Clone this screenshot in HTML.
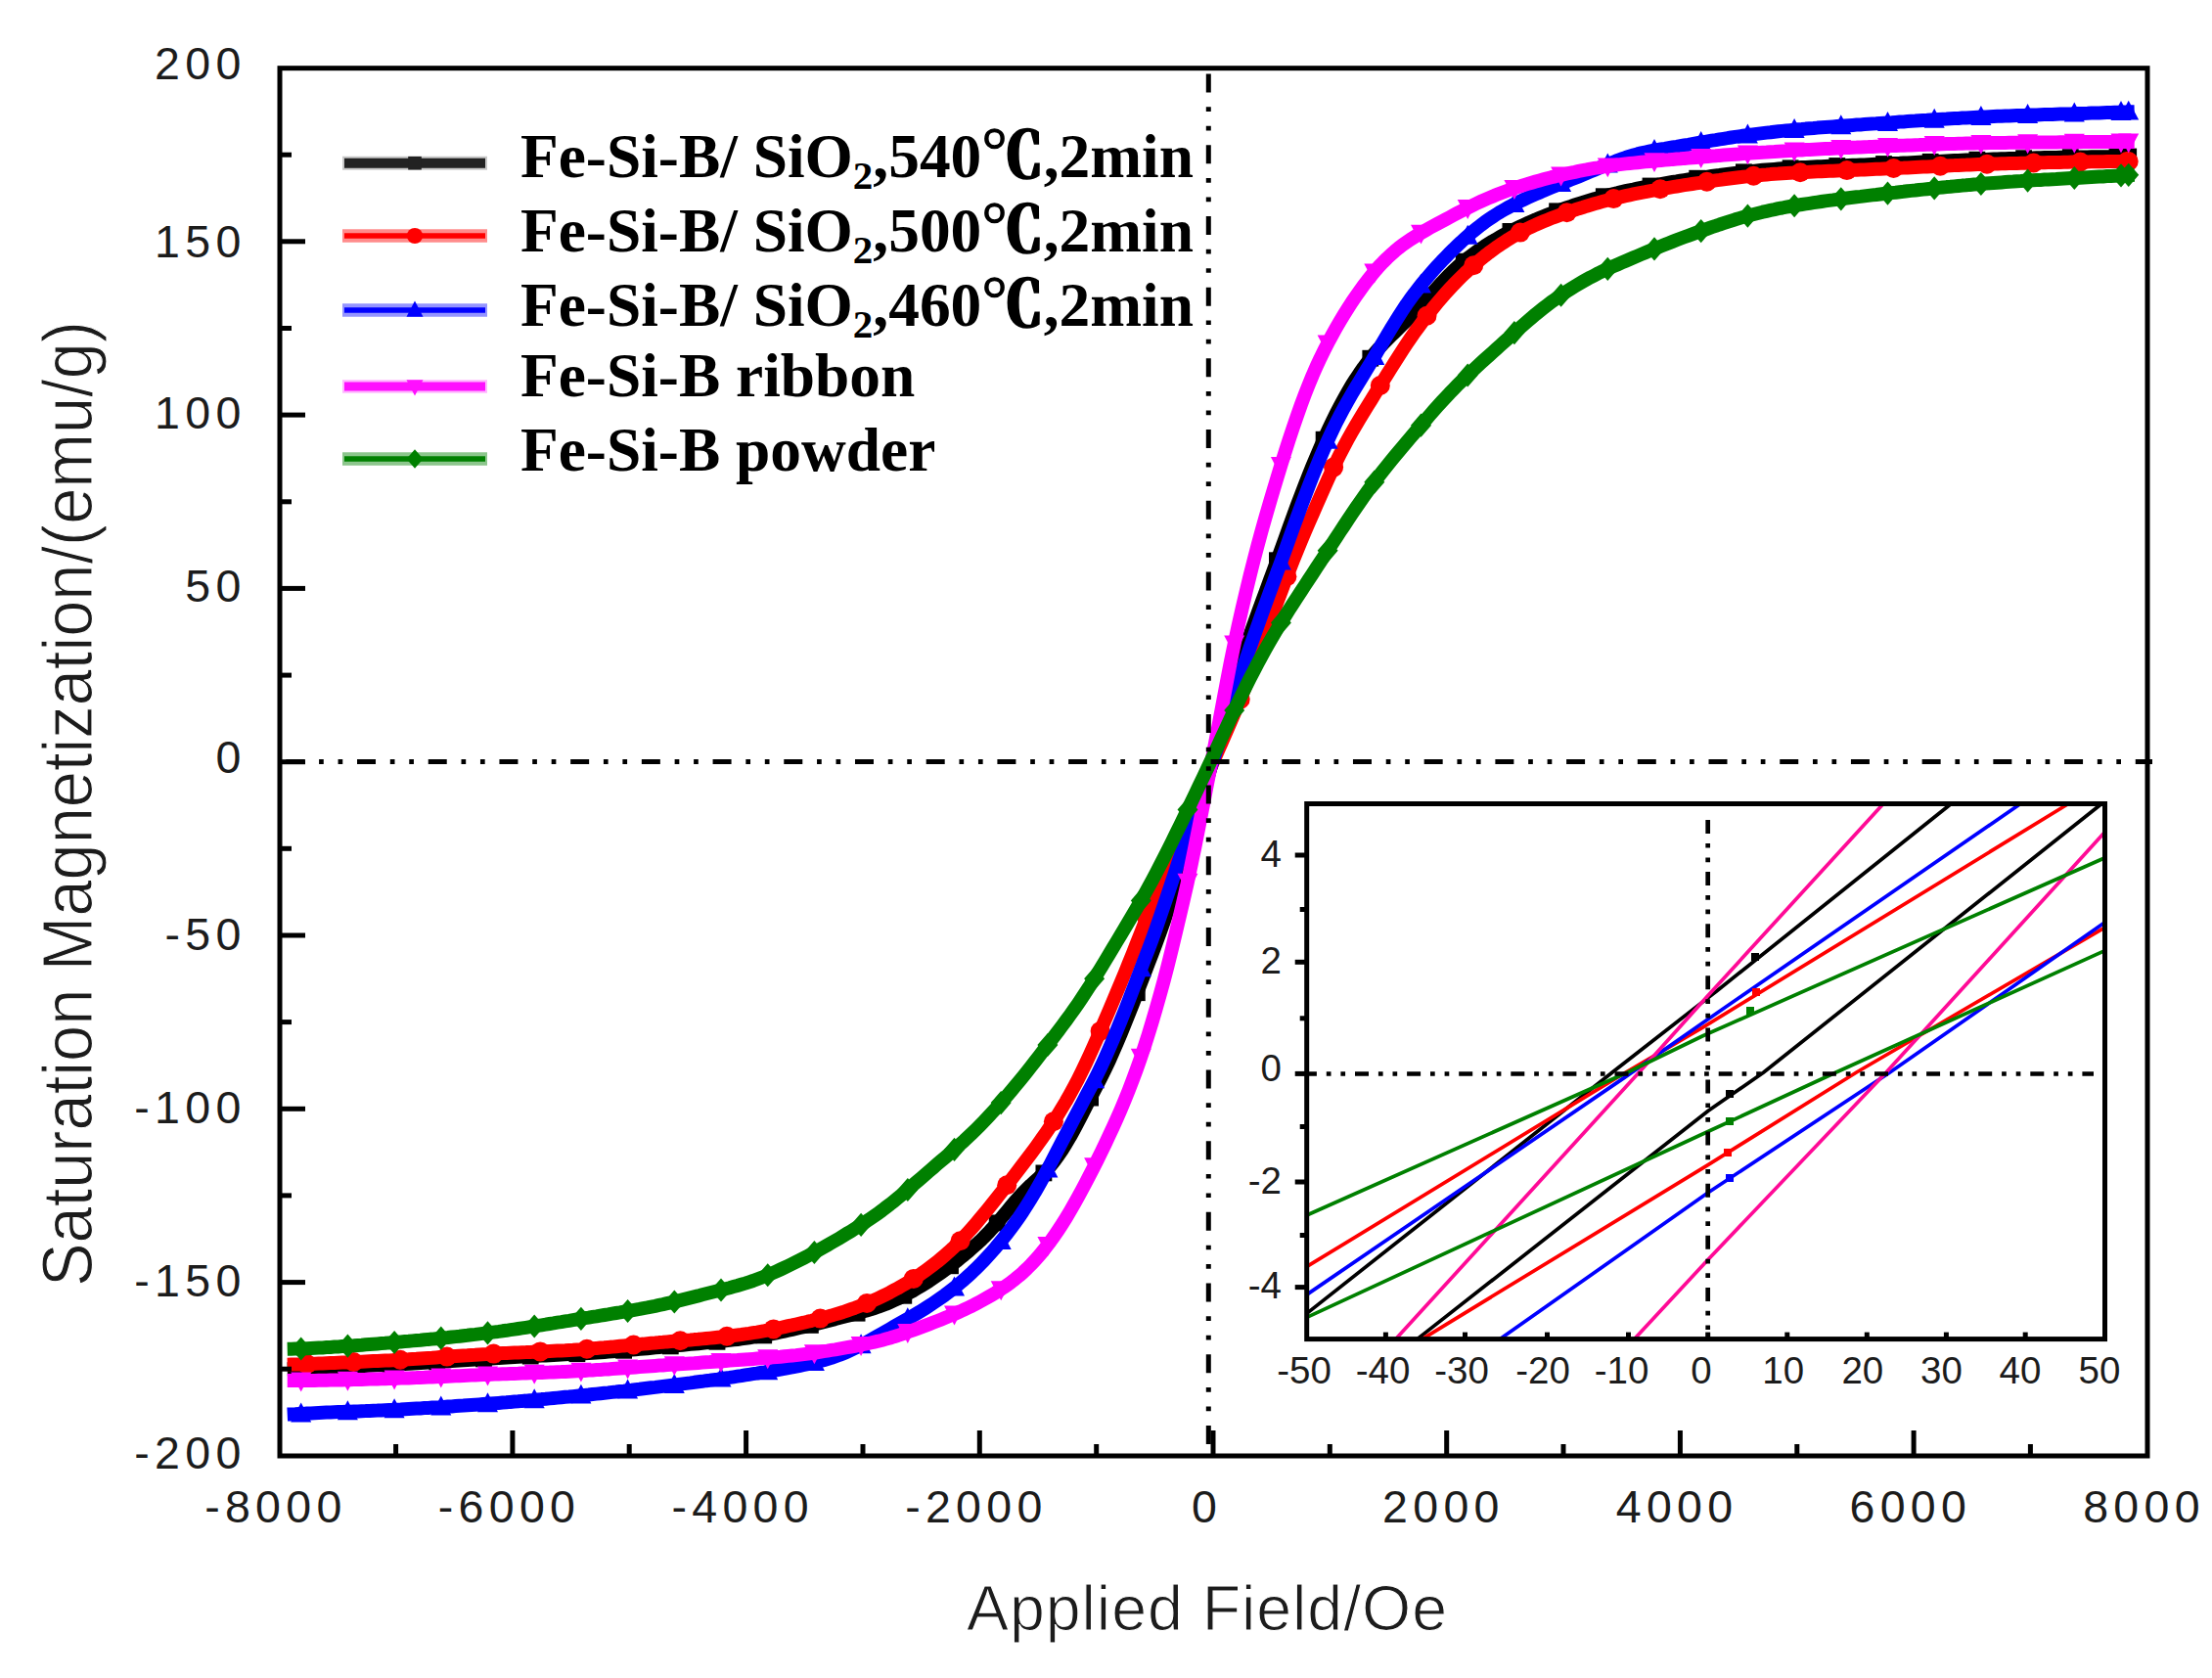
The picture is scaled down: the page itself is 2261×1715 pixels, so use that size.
<!DOCTYPE html>
<html lang="en"><head><meta charset="utf-8"><title>Hysteresis loops of Fe-Si-B samples</title>
<style>html,body{margin:0;padding:0;background:#fff}body{width:2261px;height:1715px;overflow:hidden}svg{display:block}.tk{font-family:"Liberation Sans",sans-serif;fill:#1c1c1c}.tt{stroke:#fff;stroke-width:1.1px}.lg{font-family:"Liberation Serif","Noto Serif CJK SC",serif;font-weight:bold;fill:#000}</style></head><body>
<svg width="2261" height="1715" viewBox="0 0 2261 1715">
<rect width="2261" height="1715" fill="#fff"/>
<g fill="none" stroke-linejoin="round" stroke-linecap="butt">
<path d="M293.7,1399.3 L297.7,1399.2 L301.7,1399.0 L305.7,1398.9 L309.7,1398.8 L313.7,1398.6 L317.7,1398.4 L321.7,1398.3 L325.7,1398.1 L329.7,1397.9 L333.7,1397.7 L337.7,1397.5 L341.7,1397.4 L345.7,1397.2 L349.7,1397.0 L353.7,1396.8 L357.7,1396.6 L361.7,1396.4 L365.7,1396.3 L369.7,1396.1 L373.7,1395.9 L377.7,1395.7 L381.7,1395.5 L385.7,1395.3 L389.7,1395.2 L393.7,1395.0 L397.7,1394.8 L401.7,1394.6 L405.7,1394.4 L409.7,1394.2 L413.7,1394.0 L417.7,1393.8 L421.7,1393.5 L425.7,1393.3 L429.7,1393.1 L433.7,1392.8 L437.7,1392.6 L441.7,1392.4 L445.7,1392.1 L449.7,1391.9 L453.7,1391.6 L457.7,1391.4 L461.7,1391.1 L465.7,1390.8 L469.7,1390.6 L473.7,1390.3 L477.7,1390.0 L481.7,1389.8 L485.7,1389.5 L489.7,1389.2 L493.7,1389.0 L497.7,1388.7 L501.7,1388.5 L505.7,1388.2 L509.7,1388.0 L513.7,1387.7 L517.7,1387.5 L521.7,1387.3 L525.7,1387.0 L529.7,1386.8 L533.7,1386.6 L537.7,1386.4 L541.7,1386.2 L545.7,1386.0 L549.7,1385.8 L553.7,1385.6 L557.7,1385.4 L561.7,1385.2 L565.7,1385.0 L569.7,1384.8 L573.7,1384.5 L577.7,1384.3 L581.7,1384.1 L585.7,1383.9 L589.7,1383.7 L593.7,1383.4 L597.7,1383.2 L601.7,1383.0 L605.7,1382.7 L609.7,1382.4 L613.7,1382.2 L617.7,1381.9 L621.7,1381.6 L625.7,1381.3 L629.7,1381.0 L633.7,1380.6 L637.7,1380.3 L641.7,1380.0 L645.7,1379.6 L649.7,1379.3 L653.7,1378.9 L657.7,1378.5 L661.7,1378.2 L665.7,1377.8 L669.7,1377.4 L673.7,1377.0 L677.7,1376.6 L681.7,1376.2 L685.7,1375.9 L689.7,1375.5 L693.7,1375.1 L697.7,1374.7 L701.7,1374.3 L705.7,1373.9 L709.7,1373.5 L713.7,1373.2 L717.7,1372.8 L721.7,1372.4 L725.7,1372.0 L729.7,1371.6 L733.7,1371.2 L737.7,1370.8 L741.7,1370.3 L745.7,1369.9 L749.7,1369.4 L753.7,1369.0 L757.7,1368.4 L761.7,1367.9 L765.7,1367.3 L769.7,1366.7 L773.7,1366.1 L777.7,1365.4 L781.7,1364.7 L785.7,1363.9 L789.7,1363.1 L793.7,1362.3 L797.7,1361.5 L801.7,1360.6 L805.7,1359.7 L809.7,1358.8 L813.7,1357.9 L817.7,1357.0 L821.7,1356.1 L825.7,1355.1 L829.7,1354.1 L833.7,1353.1 L837.7,1352.1 L841.7,1351.1 L845.7,1350.1 L849.7,1349.1 L853.7,1348.1 L857.7,1347.0 L861.7,1346.0 L865.7,1345.0 L869.7,1343.9 L873.7,1342.8 L877.7,1341.8 L881.7,1340.6 L885.7,1339.5 L889.7,1338.3 L893.7,1337.0 L897.7,1335.7 L901.7,1334.2 L905.7,1332.7 L909.7,1331.0 L913.7,1329.2 L917.7,1327.4 L921.7,1325.4 L925.7,1323.4 L929.7,1321.2 L933.7,1319.0 L937.7,1316.6 L941.7,1314.2 L945.7,1311.7 L949.7,1309.2 L953.7,1306.5 L957.7,1303.8 L961.7,1301.0 L965.7,1298.1 L969.7,1295.1 L973.7,1292.1 L977.7,1289.0 L981.7,1285.7 L985.7,1282.5 L989.7,1279.1 L993.7,1275.6 L997.7,1272.1 L1001.7,1268.4 L1005.7,1264.5 L1009.7,1260.4 L1013.7,1256.1 L1017.7,1251.6 L1021.7,1247.0 L1025.7,1242.2 L1029.7,1237.4 L1033.7,1232.6 L1037.7,1227.9 L1041.7,1223.4 L1045.7,1219.0 L1049.7,1215.0 L1053.7,1211.1 L1057.7,1207.5 L1061.7,1203.9 L1065.7,1200.1 L1069.7,1196.1 L1073.7,1191.6 L1077.7,1186.6 L1081.7,1181.1 L1085.7,1175.2 L1089.7,1168.8 L1093.7,1162.0 L1097.7,1154.8 L1101.7,1147.3 L1105.7,1139.5 L1109.7,1131.6 L1113.7,1123.8 L1117.7,1116.2 L1121.7,1108.5 L1125.7,1100.8 L1129.7,1092.7 L1133.7,1084.2 L1137.7,1075.2 L1141.7,1066.0 L1145.7,1056.5 L1149.7,1046.7 L1153.7,1036.7 L1157.7,1026.6 L1161.7,1016.2 L1165.7,1005.8 L1169.7,995.4 L1173.7,985.0 L1177.7,974.7 L1181.7,964.1 L1185.7,953.1 L1189.7,941.8 L1193.7,930.0 L1197.7,918.0 L1201.7,905.8 L1205.7,893.2 L1209.7,880.4 L1213.7,867.2 L1217.7,853.8 L1221.7,840.1 L1225.7,826.3 L1229.7,812.3 L1233.7,798.2 L1237.7,783.9 L1241.7,769.6 L1245.7,755.2 L1249.7,740.8 L1253.7,726.5 L1257.7,712.4 L1261.7,698.7 L1265.7,685.3 L1269.7,672.6 L1273.7,660.4 L1277.7,648.8 L1281.7,637.5 L1285.7,626.4 L1289.7,615.4 L1293.7,604.6 L1297.7,593.7 L1301.7,582.9 L1305.7,571.9 L1309.7,560.9 L1313.7,549.8 L1317.7,538.6 L1321.7,527.6 L1325.7,516.8 L1329.7,506.2 L1333.7,495.8 L1337.7,485.6 L1341.7,475.7 L1345.7,466.1 L1349.7,456.9 L1353.7,447.9 L1357.7,439.2 L1361.7,430.8 L1365.7,422.7 L1369.7,414.9 L1373.7,407.5 L1377.7,400.4 L1381.7,393.6 L1385.7,387.3 L1389.7,381.3 L1393.7,375.6 L1397.7,370.2 L1401.7,365.1 L1405.7,360.3 L1409.7,355.7 L1413.7,351.4 L1417.7,347.3 L1421.7,343.3 L1425.7,339.4 L1429.7,335.5 L1433.7,331.6 L1437.7,327.7 L1441.7,323.7 L1445.7,319.5 L1449.7,315.3 L1453.7,311.0 L1457.7,306.6 L1461.7,302.1 L1465.7,297.6 L1469.7,293.2 L1473.7,288.8 L1477.7,284.6 L1481.7,280.5 L1485.7,276.6 L1489.7,272.8 L1493.7,269.3 L1497.7,266.0 L1501.7,262.8 L1505.7,259.8 L1509.7,256.9 L1513.7,254.2 L1517.7,251.5 L1521.7,249.0 L1525.7,246.5 L1529.7,244.2 L1533.7,241.9 L1537.7,239.7 L1541.7,237.6 L1545.7,235.5 L1549.7,233.5 L1553.7,231.6 L1557.7,229.7 L1561.7,227.9 L1565.7,226.2 L1569.7,224.4 L1573.7,222.8 L1577.7,221.1 L1581.7,219.5 L1585.7,218.0 L1589.7,216.5 L1593.7,215.0 L1597.7,213.5 L1601.7,212.1 L1605.7,210.8 L1609.7,209.4 L1613.7,208.1 L1617.7,206.9 L1621.7,205.7 L1625.7,204.5 L1629.7,203.3 L1633.7,202.2 L1637.7,201.1 L1641.7,200.1 L1645.7,199.0 L1649.7,198.0 L1653.7,197.1 L1657.7,196.1 L1661.7,195.2 L1665.7,194.3 L1669.7,193.5 L1673.7,192.6 L1677.7,191.8 L1681.7,191.0 L1685.7,190.3 L1689.7,189.5 L1693.7,188.8 L1697.7,188.1 L1701.7,187.4 L1705.7,186.7 L1709.7,186.0 L1713.7,185.4 L1717.7,184.7 L1721.7,184.1 L1725.7,183.5 L1729.7,182.9 L1733.7,182.3 L1737.7,181.7 L1741.7,181.2 L1745.7,180.6 L1749.7,180.0 L1753.7,179.5 L1757.7,179.0 L1761.7,178.4 L1765.7,177.9 L1769.7,177.4 L1773.7,176.9 L1777.7,176.4 L1781.7,175.9 L1785.7,175.5 L1789.7,175.0 L1793.7,174.6 L1797.7,174.2 L1801.7,173.8 L1805.7,173.5 L1809.7,173.2 L1813.7,172.9 L1817.7,172.6 L1821.7,172.3 L1825.7,172.0 L1829.7,171.8 L1833.7,171.6 L1837.7,171.3 L1841.7,171.1 L1845.7,170.9 L1849.7,170.7 L1853.7,170.5 L1857.7,170.3 L1861.7,170.2 L1865.7,170.0 L1869.7,169.8 L1873.7,169.7 L1877.7,169.5 L1881.7,169.3 L1885.7,169.2 L1889.7,169.0 L1893.7,168.8 L1897.7,168.7 L1901.7,168.5 L1905.7,168.4 L1909.7,168.2 L1913.7,168.0 L1917.7,167.8 L1921.7,167.7 L1925.7,167.5 L1929.7,167.3 L1933.7,167.1 L1937.7,166.9 L1941.7,166.8 L1945.7,166.6 L1949.7,166.4 L1953.7,166.2 L1957.7,166.0 L1961.7,165.8 L1965.7,165.6 L1969.7,165.4 L1973.7,165.2 L1977.7,165.0 L1981.7,164.9 L1985.7,164.7 L1989.7,164.5 L1993.7,164.3 L1997.7,164.1 L2001.7,164.0 L2005.7,163.8 L2009.7,163.6 L2013.7,163.5 L2017.7,163.3 L2021.7,163.1 L2025.7,163.0 L2029.7,162.9 L2033.7,162.7 L2037.7,162.6 L2041.7,162.5 L2045.7,162.3 L2049.7,162.2 L2053.7,162.1 L2057.7,162.0 L2061.7,161.9 L2065.7,161.7 L2069.7,161.6 L2073.7,161.5 L2077.7,161.4 L2081.7,161.3 L2085.7,161.2 L2089.7,161.1 L2093.7,161.0 L2097.7,161.0 L2101.7,160.9 L2105.7,160.8 L2109.7,160.7 L2113.7,160.7 L2117.7,160.6 L2121.7,160.6 L2125.7,160.5 L2129.7,160.4 L2133.7,160.4 L2137.7,160.3 L2141.7,160.3 L2145.7,160.3 L2149.7,160.2 L2153.7,160.2 L2157.7,160.2 L2161.7,160.1 L2165.7,160.1 L2169.7,160.1 L2173.7,160.1 L2177.7,160.0 L2181.7,160.0" stroke="#000000" stroke-width="14"/>
<rect x="295.3" y="1390.6" width="16.8" height="16.8" fill="#000000"/><rect x="343.0" y="1388.5" width="16.8" height="16.8" fill="#000000"/><rect x="390.7" y="1386.3" width="16.8" height="16.8" fill="#000000"/><rect x="438.4" y="1383.6" width="16.8" height="16.8" fill="#000000"/><rect x="486.1" y="1380.5" width="16.8" height="16.8" fill="#000000"/><rect x="533.8" y="1377.7" width="16.8" height="16.8" fill="#000000"/><rect x="581.5" y="1375.3" width="16.8" height="16.8" fill="#000000"/><rect x="629.2" y="1371.9" width="16.8" height="16.8" fill="#000000"/><rect x="676.9" y="1367.5" width="16.8" height="16.8" fill="#000000"/><rect x="724.6" y="1362.9" width="16.8" height="16.8" fill="#000000"/><rect x="772.3" y="1356.5" width="16.8" height="16.8" fill="#000000"/><rect x="820.0" y="1346.0" width="16.8" height="16.8" fill="#000000"/><rect x="867.7" y="1333.8" width="16.8" height="16.8" fill="#000000"/><rect x="915.4" y="1315.9" width="16.8" height="16.8" fill="#000000"/><rect x="963.1" y="1285.4" width="16.8" height="16.8" fill="#000000"/><rect x="1010.8" y="1241.5" width="16.8" height="16.8" fill="#000000"/><rect x="1058.5" y="1190.5" width="16.8" height="16.8" fill="#000000"/><rect x="1106.2" y="1113.7" width="16.8" height="16.8" fill="#000000"/><rect x="1153.9" y="1006.3" width="16.8" height="16.8" fill="#000000"/><rect x="1201.6" y="871.0" width="16.8" height="16.8" fill="#000000"/><rect x="1249.3" y="704.0" width="16.8" height="16.8" fill="#000000"/><rect x="1297.0" y="564.3" width="16.8" height="16.8" fill="#000000"/><rect x="1344.7" y="440.8" width="16.8" height="16.8" fill="#000000"/><rect x="1392.4" y="357.8" width="16.8" height="16.8" fill="#000000"/><rect x="1440.1" y="308.2" width="16.8" height="16.8" fill="#000000"/><rect x="1487.8" y="258.8" width="16.8" height="16.8" fill="#000000"/><rect x="1535.5" y="228.0" width="16.8" height="16.8" fill="#000000"/><rect x="1583.2" y="207.4" width="16.8" height="16.8" fill="#000000"/><rect x="1630.9" y="192.3" width="16.8" height="16.8" fill="#000000"/><rect x="1678.6" y="181.6" width="16.8" height="16.8" fill="#000000"/><rect x="1726.3" y="173.8" width="16.8" height="16.8" fill="#000000"/><rect x="1774.0" y="167.4" width="16.8" height="16.8" fill="#000000"/><rect x="1821.7" y="163.4" width="16.8" height="16.8" fill="#000000"/><rect x="1869.4" y="161.1" width="16.8" height="16.8" fill="#000000"/><rect x="1917.1" y="159.1" width="16.8" height="16.8" fill="#000000"/><rect x="1964.8" y="156.9" width="16.8" height="16.8" fill="#000000"/><rect x="2012.5" y="154.8" width="16.8" height="16.8" fill="#000000"/><rect x="2060.2" y="153.3" width="16.8" height="16.8" fill="#000000"/><rect x="2107.9" y="152.2" width="16.8" height="16.8" fill="#000000"/><rect x="2155.6" y="151.7" width="16.8" height="16.8" fill="#000000"/><rect x="2167.3" y="151.6" width="16.8" height="16.8" fill="#000000"/>
<path d="M293.7,1394.7 L297.7,1394.6 L301.7,1394.5 L305.7,1394.4 L309.7,1394.2 L313.7,1394.1 L317.7,1393.9 L321.7,1393.7 L325.7,1393.5 L329.7,1393.4 L333.7,1393.2 L337.7,1393.0 L341.7,1392.9 L345.7,1392.7 L349.7,1392.5 L353.7,1392.4 L357.7,1392.2 L361.7,1392.0 L365.7,1391.9 L369.7,1391.7 L373.7,1391.5 L377.7,1391.3 L381.7,1391.1 L385.7,1391.0 L389.7,1390.8 L393.7,1390.6 L397.7,1390.4 L401.7,1390.2 L405.7,1390.0 L409.7,1389.7 L413.7,1389.5 L417.7,1389.3 L421.7,1389.0 L425.7,1388.8 L429.7,1388.5 L433.7,1388.2 L437.7,1387.9 L441.7,1387.7 L445.7,1387.4 L449.7,1387.1 L453.7,1386.8 L457.7,1386.5 L461.7,1386.3 L465.7,1386.0 L469.7,1385.7 L473.7,1385.4 L477.7,1385.2 L481.7,1384.9 L485.7,1384.7 L489.7,1384.4 L493.7,1384.2 L497.7,1384.0 L501.7,1383.7 L505.7,1383.5 L509.7,1383.3 L513.7,1383.1 L517.7,1383.0 L521.7,1382.8 L525.7,1382.6 L529.7,1382.4 L533.7,1382.2 L537.7,1382.1 L541.7,1381.9 L545.7,1381.7 L549.7,1381.5 L553.7,1381.4 L557.7,1381.2 L561.7,1381.0 L565.7,1380.8 L569.7,1380.6 L573.7,1380.4 L577.7,1380.2 L581.7,1379.9 L585.7,1379.7 L589.7,1379.4 L593.7,1379.2 L597.7,1378.9 L601.7,1378.6 L605.7,1378.3 L609.7,1377.9 L613.7,1377.6 L617.7,1377.3 L621.7,1376.9 L625.7,1376.6 L629.7,1376.2 L633.7,1375.8 L637.7,1375.4 L641.7,1375.1 L645.7,1374.7 L649.7,1374.3 L653.7,1373.9 L657.7,1373.6 L661.7,1373.2 L665.7,1372.8 L669.7,1372.5 L673.7,1372.1 L677.7,1371.8 L681.7,1371.4 L685.7,1371.1 L689.7,1370.8 L693.7,1370.5 L697.7,1370.1 L701.7,1369.8 L705.7,1369.5 L709.7,1369.1 L713.7,1368.8 L717.7,1368.4 L721.7,1368.0 L725.7,1367.6 L729.7,1367.2 L733.7,1366.8 L737.7,1366.4 L741.7,1366.0 L745.7,1365.5 L749.7,1365.0 L753.7,1364.5 L757.7,1364.0 L761.7,1363.4 L765.7,1362.9 L769.7,1362.2 L773.7,1361.6 L777.7,1360.9 L781.7,1360.2 L785.7,1359.4 L789.7,1358.6 L793.7,1357.8 L797.7,1357.0 L801.7,1356.1 L805.7,1355.2 L809.7,1354.4 L813.7,1353.5 L817.7,1352.6 L821.7,1351.7 L825.7,1350.7 L829.7,1349.8 L833.7,1348.8 L837.7,1347.8 L841.7,1346.8 L845.7,1345.7 L849.7,1344.6 L853.7,1343.4 L857.7,1342.2 L861.7,1341.0 L865.7,1339.6 L869.7,1338.2 L873.7,1336.8 L877.7,1335.3 L881.7,1333.7 L885.7,1332.1 L889.7,1330.4 L893.7,1328.6 L897.7,1326.8 L901.7,1324.9 L905.7,1322.9 L909.7,1320.9 L913.7,1318.7 L917.7,1316.6 L921.7,1314.3 L925.7,1311.9 L929.7,1309.5 L933.7,1307.0 L937.7,1304.4 L941.7,1301.7 L945.7,1298.8 L949.7,1295.9 L953.7,1292.9 L957.7,1289.8 L961.7,1286.5 L965.7,1283.1 L969.7,1279.6 L973.7,1275.9 L977.7,1272.0 L981.7,1268.0 L985.7,1263.8 L989.7,1259.4 L993.7,1255.0 L997.7,1250.4 L1001.7,1245.6 L1005.7,1240.8 L1009.7,1235.9 L1013.7,1230.9 L1017.7,1225.9 L1021.7,1220.8 L1025.7,1215.7 L1029.7,1210.6 L1033.7,1205.4 L1037.7,1200.3 L1041.7,1195.1 L1045.7,1189.8 L1049.7,1184.5 L1053.7,1179.2 L1057.7,1173.8 L1061.7,1168.2 L1065.7,1162.6 L1069.7,1156.9 L1073.7,1151.0 L1077.7,1145.0 L1081.7,1138.7 L1085.7,1132.2 L1089.7,1125.5 L1093.7,1118.4 L1097.7,1111.0 L1101.7,1103.4 L1105.7,1095.4 L1109.7,1087.1 L1113.7,1078.6 L1117.7,1069.7 L1121.7,1060.6 L1125.7,1051.3 L1129.7,1042.0 L1133.7,1032.7 L1137.7,1023.3 L1141.7,1013.8 L1145.7,1004.3 L1149.7,994.6 L1153.7,984.7 L1157.7,974.8 L1161.7,964.7 L1165.7,954.5 L1169.7,944.3 L1173.7,934.0 L1177.7,923.7 L1181.7,913.4 L1185.7,903.2 L1189.7,893.1 L1193.7,883.3 L1197.7,873.7 L1201.7,864.4 L1205.7,855.2 L1209.7,846.2 L1213.7,837.3 L1217.7,828.5 L1221.7,819.6 L1225.7,810.7 L1229.7,801.8 L1233.7,792.9 L1237.7,783.9 L1241.7,774.9 L1245.7,765.8 L1249.7,756.7 L1253.7,747.5 L1257.7,738.2 L1261.7,728.9 L1265.7,719.5 L1269.7,709.9 L1273.7,700.2 L1277.7,690.2 L1281.7,679.9 L1285.7,669.3 L1289.7,658.5 L1293.7,647.6 L1297.7,636.6 L1301.7,625.7 L1305.7,614.9 L1309.7,604.2 L1313.7,593.6 L1317.7,583.2 L1321.7,573.0 L1325.7,563.1 L1329.7,553.4 L1333.7,543.9 L1337.7,534.6 L1341.7,525.4 L1345.7,516.2 L1349.7,507.1 L1353.7,498.1 L1357.7,489.2 L1361.7,480.5 L1365.7,472.2 L1369.7,464.1 L1373.7,456.4 L1377.7,449.0 L1381.7,441.9 L1385.7,435.0 L1389.7,428.2 L1393.7,421.6 L1397.7,415.1 L1401.7,408.7 L1405.7,402.2 L1409.7,395.8 L1413.7,389.4 L1417.7,383.0 L1421.7,376.6 L1425.7,370.2 L1429.7,363.9 L1433.7,357.7 L1437.7,351.7 L1441.7,345.8 L1445.7,340.1 L1449.7,334.6 L1453.7,329.1 L1457.7,323.9 L1461.7,318.7 L1465.7,313.8 L1469.7,308.9 L1473.7,304.2 L1477.7,299.7 L1481.7,295.3 L1485.7,291.0 L1489.7,286.9 L1493.7,282.9 L1497.7,279.0 L1501.7,275.3 L1505.7,271.7 L1509.7,268.2 L1513.7,264.9 L1517.7,261.6 L1521.7,258.5 L1525.7,255.6 L1529.7,252.7 L1533.7,249.9 L1537.7,247.3 L1541.7,244.7 L1545.7,242.3 L1549.7,239.9 L1553.7,237.7 L1557.7,235.6 L1561.7,233.5 L1565.7,231.6 L1569.7,229.7 L1573.7,228.0 L1577.7,226.3 L1581.7,224.7 L1585.7,223.1 L1589.7,221.6 L1593.7,220.1 L1597.7,218.7 L1601.7,217.3 L1605.7,215.9 L1609.7,214.5 L1613.7,213.2 L1617.7,212.0 L1621.7,210.7 L1625.7,209.5 L1629.7,208.3 L1633.7,207.2 L1637.7,206.1 L1641.7,205.0 L1645.7,204.0 L1649.7,203.0 L1653.7,202.0 L1657.7,201.1 L1661.7,200.2 L1665.7,199.3 L1669.7,198.4 L1673.7,197.6 L1677.7,196.8 L1681.7,196.1 L1685.7,195.3 L1689.7,194.6 L1693.7,193.8 L1697.7,193.1 L1701.7,192.5 L1705.7,191.8 L1709.7,191.1 L1713.7,190.5 L1717.7,189.8 L1721.7,189.2 L1725.7,188.6 L1729.7,188.0 L1733.7,187.4 L1737.7,186.8 L1741.7,186.2 L1745.7,185.6 L1749.7,185.0 L1753.7,184.4 L1757.7,183.9 L1761.7,183.3 L1765.7,182.8 L1769.7,182.3 L1773.7,181.8 L1777.7,181.3 L1781.7,180.8 L1785.7,180.4 L1789.7,180.0 L1793.7,179.6 L1797.7,179.2 L1801.7,178.8 L1805.7,178.5 L1809.7,178.1 L1813.7,177.8 L1817.7,177.6 L1821.7,177.3 L1825.7,177.0 L1829.7,176.8 L1833.7,176.6 L1837.7,176.3 L1841.7,176.1 L1845.7,175.9 L1849.7,175.7 L1853.7,175.5 L1857.7,175.3 L1861.7,175.2 L1865.7,175.0 L1869.7,174.8 L1873.7,174.7 L1877.7,174.5 L1881.7,174.3 L1885.7,174.2 L1889.7,174.0 L1893.7,173.8 L1897.7,173.7 L1901.7,173.5 L1905.7,173.4 L1909.7,173.2 L1913.7,173.0 L1917.7,172.8 L1921.7,172.7 L1925.7,172.5 L1929.7,172.3 L1933.7,172.1 L1937.7,171.9 L1941.7,171.7 L1945.7,171.6 L1949.7,171.4 L1953.7,171.2 L1957.7,171.0 L1961.7,170.8 L1965.7,170.6 L1969.7,170.4 L1973.7,170.2 L1977.7,170.0 L1981.7,169.8 L1985.7,169.6 L1989.7,169.4 L1993.7,169.2 L1997.7,169.1 L2001.7,168.9 L2005.7,168.7 L2009.7,168.6 L2013.7,168.4 L2017.7,168.2 L2021.7,168.1 L2025.7,168.0 L2029.7,167.8 L2033.7,167.7 L2037.7,167.6 L2041.7,167.5 L2045.7,167.3 L2049.7,167.2 L2053.7,167.1 L2057.7,167.0 L2061.7,166.9 L2065.7,166.8 L2069.7,166.7 L2073.7,166.6 L2077.7,166.5 L2081.7,166.4 L2085.7,166.3 L2089.7,166.2 L2093.7,166.1 L2097.7,166.0 L2101.7,165.9 L2105.7,165.9 L2109.7,165.8 L2113.7,165.7 L2117.7,165.6 L2121.7,165.5 L2125.7,165.5 L2129.7,165.4 L2133.7,165.4 L2137.7,165.3 L2141.7,165.2 L2145.7,165.2 L2149.7,165.2 L2153.7,165.1 L2157.7,165.1 L2161.7,165.1 L2165.7,165.0 L2169.7,165.0 L2173.7,165.0 L2177.7,165.0 L2181.7,165.0" stroke="#ff0000" stroke-width="14"/>
<circle cx="313.7" cy="1394.1" r="10.0" fill="#ff0000"/><circle cx="361.4" cy="1392.0" r="10.0" fill="#ff0000"/><circle cx="409.1" cy="1389.8" r="10.0" fill="#ff0000"/><circle cx="456.8" cy="1386.6" r="10.0" fill="#ff0000"/><circle cx="504.5" cy="1383.6" r="10.0" fill="#ff0000"/><circle cx="552.2" cy="1381.4" r="10.0" fill="#ff0000"/><circle cx="599.9" cy="1378.7" r="10.0" fill="#ff0000"/><circle cx="647.6" cy="1374.5" r="10.0" fill="#ff0000"/><circle cx="695.3" cy="1370.3" r="10.0" fill="#ff0000"/><circle cx="743.0" cy="1365.8" r="10.0" fill="#ff0000"/><circle cx="790.7" cy="1358.4" r="10.0" fill="#ff0000"/><circle cx="838.4" cy="1347.6" r="10.0" fill="#ff0000"/><circle cx="886.1" cy="1331.9" r="10.0" fill="#ff0000"/><circle cx="933.8" cy="1306.9" r="10.0" fill="#ff0000"/><circle cx="981.5" cy="1268.2" r="10.0" fill="#ff0000"/><circle cx="1029.2" cy="1211.2" r="10.0" fill="#ff0000"/><circle cx="1076.9" cy="1146.2" r="10.0" fill="#ff0000"/><circle cx="1124.6" cy="1053.9" r="10.0" fill="#ff0000"/><circle cx="1172.3" cy="937.6" r="10.0" fill="#ff0000"/><circle cx="1220.0" cy="823.4" r="10.0" fill="#ff0000"/><circle cx="1267.7" cy="714.7" r="10.0" fill="#ff0000"/><circle cx="1315.4" cy="589.2" r="10.0" fill="#ff0000"/><circle cx="1363.1" cy="477.6" r="10.0" fill="#ff0000"/><circle cx="1410.8" cy="394.0" r="10.0" fill="#ff0000"/><circle cx="1458.5" cy="322.8" r="10.0" fill="#ff0000"/><circle cx="1506.2" cy="271.3" r="10.0" fill="#ff0000"/><circle cx="1553.9" cy="237.6" r="10.0" fill="#ff0000"/><circle cx="1601.6" cy="217.3" r="10.0" fill="#ff0000"/><circle cx="1649.3" cy="203.1" r="10.0" fill="#ff0000"/><circle cx="1697.0" cy="193.3" r="10.0" fill="#ff0000"/><circle cx="1744.7" cy="185.7" r="10.0" fill="#ff0000"/><circle cx="1792.4" cy="179.7" r="10.0" fill="#ff0000"/><circle cx="1840.1" cy="176.2" r="10.0" fill="#ff0000"/><circle cx="1887.8" cy="174.1" r="10.0" fill="#ff0000"/><circle cx="1935.5" cy="172.0" r="10.0" fill="#ff0000"/><circle cx="1983.2" cy="169.7" r="10.0" fill="#ff0000"/><circle cx="2030.9" cy="167.8" r="10.0" fill="#ff0000"/><circle cx="2078.6" cy="166.5" r="10.0" fill="#ff0000"/><circle cx="2126.3" cy="165.5" r="10.0" fill="#ff0000"/><circle cx="2174.0" cy="165.0" r="10.0" fill="#ff0000"/><circle cx="2175.7" cy="165.0" r="10.0" fill="#ff0000"/>
<path d="M293.7,1445.6 L297.7,1445.4 L301.7,1445.3 L305.7,1445.1 L309.7,1444.9 L313.7,1444.6 L317.7,1444.4 L321.7,1444.2 L325.7,1444.0 L329.7,1443.8 L333.7,1443.6 L337.7,1443.5 L341.7,1443.3 L345.7,1443.1 L349.7,1443.0 L353.7,1442.8 L357.7,1442.7 L361.7,1442.5 L365.7,1442.4 L369.7,1442.2 L373.7,1442.1 L377.7,1441.9 L381.7,1441.7 L385.7,1441.6 L389.7,1441.4 L393.7,1441.2 L397.7,1441.0 L401.7,1440.9 L405.7,1440.7 L409.7,1440.5 L413.7,1440.2 L417.7,1440.0 L421.7,1439.8 L425.7,1439.6 L429.7,1439.4 L433.7,1439.1 L437.7,1438.9 L441.7,1438.6 L445.7,1438.4 L449.7,1438.2 L453.7,1437.9 L457.7,1437.6 L461.7,1437.4 L465.7,1437.1 L469.7,1436.8 L473.7,1436.6 L477.7,1436.3 L481.7,1436.0 L485.7,1435.7 L489.7,1435.4 L493.7,1435.1 L497.7,1434.8 L501.7,1434.5 L505.7,1434.2 L509.7,1433.9 L513.7,1433.6 L517.7,1433.3 L521.7,1432.9 L525.7,1432.6 L529.7,1432.3 L533.7,1431.9 L537.7,1431.6 L541.7,1431.2 L545.7,1430.9 L549.7,1430.5 L553.7,1430.1 L557.7,1429.8 L561.7,1429.4 L565.7,1429.0 L569.7,1428.6 L573.7,1428.2 L577.7,1427.8 L581.7,1427.5 L585.7,1427.1 L589.7,1426.7 L593.7,1426.3 L597.7,1425.9 L601.7,1425.5 L605.7,1425.0 L609.7,1424.6 L613.7,1424.2 L617.7,1423.8 L621.7,1423.4 L625.7,1422.9 L629.7,1422.5 L633.7,1422.0 L637.7,1421.6 L641.7,1421.1 L645.7,1420.7 L649.7,1420.2 L653.7,1419.8 L657.7,1419.3 L661.7,1418.8 L665.7,1418.3 L669.7,1417.9 L673.7,1417.4 L677.7,1416.9 L681.7,1416.4 L685.7,1415.9 L689.7,1415.4 L693.7,1414.9 L697.7,1414.4 L701.7,1413.9 L705.7,1413.4 L709.7,1412.8 L713.7,1412.3 L717.7,1411.8 L721.7,1411.2 L725.7,1410.7 L729.7,1410.1 L733.7,1409.6 L737.7,1409.0 L741.7,1408.4 L745.7,1407.9 L749.7,1407.3 L753.7,1406.7 L757.7,1406.1 L761.7,1405.4 L765.7,1404.8 L769.7,1404.2 L773.7,1403.6 L777.7,1402.9 L781.7,1402.3 L785.7,1401.6 L789.7,1401.0 L793.7,1400.3 L797.7,1399.6 L801.7,1398.9 L805.7,1398.1 L809.7,1397.4 L813.7,1396.6 L817.7,1395.8 L821.7,1395.0 L825.7,1394.1 L829.7,1393.2 L833.7,1392.3 L837.7,1391.2 L841.7,1390.2 L845.7,1389.0 L849.7,1387.8 L853.7,1386.4 L857.7,1385.0 L861.7,1383.4 L865.7,1381.7 L869.7,1379.9 L873.7,1378.0 L877.7,1376.0 L881.7,1374.0 L885.7,1371.8 L889.7,1369.6 L893.7,1367.3 L897.7,1365.0 L901.7,1362.8 L905.7,1360.5 L909.7,1358.2 L913.7,1355.9 L917.7,1353.6 L921.7,1351.3 L925.7,1349.0 L929.7,1346.8 L933.7,1344.4 L937.7,1342.1 L941.7,1339.7 L945.7,1337.2 L949.7,1334.6 L953.7,1332.0 L957.7,1329.3 L961.7,1326.5 L965.7,1323.7 L969.7,1320.7 L973.7,1317.6 L977.7,1314.4 L981.7,1311.0 L985.7,1307.6 L989.7,1304.0 L993.7,1300.3 L997.7,1296.4 L1001.7,1292.5 L1005.7,1288.3 L1009.7,1284.0 L1013.7,1279.6 L1017.7,1275.1 L1021.7,1270.3 L1025.7,1265.4 L1029.7,1260.4 L1033.7,1255.1 L1037.7,1249.6 L1041.7,1243.9 L1045.7,1238.0 L1049.7,1231.8 L1053.7,1225.3 L1057.7,1218.7 L1061.7,1211.7 L1065.7,1204.6 L1069.7,1197.2 L1073.7,1189.7 L1077.7,1182.0 L1081.7,1174.3 L1085.7,1166.6 L1089.7,1158.9 L1093.7,1151.2 L1097.7,1143.6 L1101.7,1136.0 L1105.7,1128.4 L1109.7,1120.8 L1113.7,1113.3 L1117.7,1105.7 L1121.7,1097.8 L1125.7,1089.6 L1129.7,1080.9 L1133.7,1071.8 L1137.7,1062.4 L1141.7,1052.8 L1145.7,1043.0 L1149.7,1033.0 L1153.7,1022.7 L1157.7,1012.3 L1161.7,1001.9 L1165.7,991.5 L1169.7,981.1 L1173.7,970.7 L1177.7,960.0 L1181.7,948.8 L1185.7,937.3 L1189.7,925.5 L1193.7,913.7 L1197.7,901.7 L1201.7,889.7 L1205.7,877.5 L1209.7,865.3 L1213.7,853.2 L1217.7,841.2 L1221.7,829.5 L1225.7,818.0 L1229.7,806.6 L1233.7,795.1 L1237.7,783.5 L1241.7,771.8 L1245.7,759.8 L1249.7,747.6 L1253.7,735.2 L1257.7,722.6 L1261.7,710.0 L1265.7,697.5 L1269.7,685.3 L1273.7,673.4 L1277.7,661.8 L1281.7,650.4 L1285.7,639.1 L1289.7,627.9 L1293.7,616.9 L1297.7,605.9 L1301.7,595.1 L1305.7,584.2 L1309.7,573.3 L1313.7,562.3 L1317.7,551.2 L1321.7,540.0 L1325.7,529.0 L1329.7,518.1 L1333.7,507.5 L1337.7,497.1 L1341.7,486.8 L1345.7,476.9 L1349.7,467.3 L1353.7,458.0 L1357.7,449.1 L1361.7,440.5 L1365.7,432.3 L1369.7,424.5 L1373.7,417.0 L1377.7,409.9 L1381.7,402.9 L1385.7,396.2 L1389.7,389.6 L1393.7,383.0 L1397.7,376.4 L1401.7,369.8 L1405.7,363.1 L1409.7,356.3 L1413.7,349.6 L1417.7,342.8 L1421.7,336.1 L1425.7,329.6 L1429.7,323.2 L1433.7,317.0 L1437.7,311.0 L1441.7,305.4 L1445.7,299.9 L1449.7,294.7 L1453.7,289.7 L1457.7,284.9 L1461.7,280.2 L1465.7,275.7 L1469.7,271.2 L1473.7,266.9 L1477.7,262.8 L1481.7,258.7 L1485.7,254.7 L1489.7,250.9 L1493.7,247.1 L1497.7,243.5 L1501.7,239.9 L1505.7,236.5 L1509.7,233.3 L1513.7,230.1 L1517.7,227.1 L1521.7,224.3 L1525.7,221.6 L1529.7,219.0 L1533.7,216.5 L1537.7,214.2 L1541.7,212.0 L1545.7,209.8 L1549.7,207.8 L1553.7,205.8 L1557.7,203.9 L1561.7,202.0 L1565.7,200.2 L1569.7,198.4 L1573.7,196.7 L1577.7,194.9 L1581.7,193.3 L1585.7,191.6 L1589.7,190.0 L1593.7,188.4 L1597.7,186.8 L1601.7,185.2 L1605.7,183.6 L1609.7,182.0 L1613.7,180.4 L1617.7,178.8 L1621.7,177.1 L1625.7,175.4 L1629.7,173.7 L1633.7,172.0 L1637.7,170.3 L1641.7,168.7 L1645.7,167.0 L1649.7,165.4 L1653.7,163.8 L1657.7,162.4 L1661.7,161.0 L1665.7,159.7 L1669.7,158.5 L1673.7,157.4 L1677.7,156.4 L1681.7,155.5 L1685.7,154.7 L1689.7,153.9 L1693.7,153.1 L1697.7,152.4 L1701.7,151.8 L1705.7,151.1 L1709.7,150.4 L1713.7,149.8 L1717.7,149.1 L1721.7,148.4 L1725.7,147.8 L1729.7,147.1 L1733.7,146.4 L1737.7,145.7 L1741.7,145.1 L1745.7,144.4 L1749.7,143.7 L1753.7,143.1 L1757.7,142.4 L1761.7,141.8 L1765.7,141.2 L1769.7,140.5 L1773.7,139.9 L1777.7,139.3 L1781.7,138.7 L1785.7,138.2 L1789.7,137.6 L1793.7,137.1 L1797.7,136.6 L1801.7,136.1 L1805.7,135.6 L1809.7,135.2 L1813.7,134.7 L1817.7,134.3 L1821.7,133.9 L1825.7,133.5 L1829.7,133.1 L1833.7,132.7 L1837.7,132.3 L1841.7,132.0 L1845.7,131.6 L1849.7,131.3 L1853.7,131.0 L1857.7,130.6 L1861.7,130.3 L1865.7,130.0 L1869.7,129.7 L1873.7,129.4 L1877.7,129.1 L1881.7,128.8 L1885.7,128.5 L1889.7,128.2 L1893.7,127.9 L1897.7,127.6 L1901.7,127.4 L1905.7,127.1 L1909.7,126.8 L1913.7,126.5 L1917.7,126.3 L1921.7,126.0 L1925.7,125.7 L1929.7,125.4 L1933.7,125.2 L1937.7,124.9 L1941.7,124.6 L1945.7,124.4 L1949.7,124.1 L1953.7,123.8 L1957.7,123.6 L1961.7,123.3 L1965.7,123.0 L1969.7,122.8 L1973.7,122.5 L1977.7,122.3 L1981.7,122.0 L1985.7,121.8 L1989.7,121.6 L1993.7,121.3 L1997.7,121.1 L2001.7,120.9 L2005.7,120.6 L2009.7,120.4 L2013.7,120.2 L2017.7,120.0 L2021.7,119.8 L2025.7,119.6 L2029.7,119.4 L2033.7,119.2 L2037.7,119.0 L2041.7,118.8 L2045.7,118.7 L2049.7,118.5 L2053.7,118.4 L2057.7,118.2 L2061.7,118.0 L2065.7,117.9 L2069.7,117.8 L2073.7,117.6 L2077.7,117.5 L2081.7,117.4 L2085.7,117.2 L2089.7,117.1 L2093.7,117.0 L2097.7,116.9 L2101.7,116.7 L2105.7,116.6 L2109.7,116.5 L2113.7,116.4 L2117.7,116.3 L2121.7,116.1 L2125.7,116.0 L2129.7,115.9 L2133.7,115.8 L2137.7,115.6 L2141.7,115.5 L2145.7,115.4 L2149.7,115.2 L2153.7,115.1 L2157.7,115.0 L2161.7,114.8 L2165.7,114.7 L2169.7,114.5 L2173.7,114.4 L2177.7,114.3 L2181.7,114.2" stroke="#0000ff" stroke-width="14"/>
<polygon points="297.2,1453.4 318.2,1453.4 307.7,1433.4" fill="#0000ff"/><polygon points="344.9,1451.2 365.9,1451.2 355.4,1431.2" fill="#0000ff"/><polygon points="392.6,1449.2 413.6,1449.2 403.1,1429.2" fill="#0000ff"/><polygon points="440.3,1446.5 461.3,1446.5 450.8,1426.5" fill="#0000ff"/><polygon points="488.0,1443.2 509.0,1443.2 498.5,1423.2" fill="#0000ff"/><polygon points="535.7,1439.2 556.7,1439.2 546.2,1419.3" fill="#0000ff"/><polygon points="583.4,1434.6 604.4,1434.6 593.9,1414.7" fill="#0000ff"/><polygon points="631.1,1429.6 652.1,1429.6 641.6,1409.6" fill="#0000ff"/><polygon points="678.8,1423.9 699.8,1423.9 689.3,1403.9" fill="#0000ff"/><polygon points="726.5,1417.5 747.5,1417.5 737.0,1397.6" fill="#0000ff"/><polygon points="774.2,1410.2 795.2,1410.2 784.7,1390.2" fill="#0000ff"/><polygon points="821.9,1401.0 842.9,1401.0 832.4,1381.0" fill="#0000ff"/><polygon points="869.6,1383.2 890.6,1383.2 880.1,1363.2" fill="#0000ff"/><polygon points="917.3,1356.2 938.3,1356.2 927.8,1336.3" fill="#0000ff"/><polygon points="965.0,1324.5 986.0,1324.5 975.5,1304.6" fill="#0000ff"/><polygon points="1012.7,1276.9 1033.7,1276.9 1023.2,1256.9" fill="#0000ff"/><polygon points="1060.4,1203.4 1081.4,1203.4 1070.9,1183.4" fill="#0000ff"/><polygon points="1108.1,1112.3 1129.1,1112.3 1118.6,1092.4" fill="#0000ff"/><polygon points="1155.8,998.3 1176.8,998.3 1166.3,978.4" fill="#0000ff"/><polygon points="1203.5,860.7 1224.5,860.7 1214.0,840.7" fill="#0000ff"/><polygon points="1251.2,718.4 1272.2,718.4 1261.7,698.5" fill="#0000ff"/><polygon points="1298.9,582.5 1319.9,582.5 1309.4,562.6" fill="#0000ff"/><polygon points="1346.6,458.8 1367.6,458.8 1357.1,438.9" fill="#0000ff"/><polygon points="1394.3,373.0 1415.3,373.0 1404.8,353.0" fill="#0000ff"/><polygon points="1442.0,299.6 1463.0,299.6 1452.5,279.7" fill="#0000ff"/><polygon points="1489.7,249.7 1510.7,249.7 1500.2,229.7" fill="#0000ff"/><polygon points="1537.4,217.1 1558.4,217.1 1547.9,197.1" fill="#0000ff"/><polygon points="1585.1,196.0 1606.1,196.0 1595.6,176.1" fill="#0000ff"/><polygon points="1632.8,176.4 1653.8,176.4 1643.3,156.4" fill="#0000ff"/><polygon points="1680.5,162.0 1701.5,162.0 1691.0,142.1" fill="#0000ff"/><polygon points="1728.2,154.0 1749.2,154.0 1738.7,134.0" fill="#0000ff"/><polygon points="1775.9,146.5 1796.9,146.5 1786.4,126.5" fill="#0000ff"/><polygon points="1823.6,141.1 1844.6,141.1 1834.1,121.1" fill="#0000ff"/><polygon points="1871.3,137.2 1892.3,137.2 1881.8,117.2" fill="#0000ff"/><polygon points="1919.0,133.9 1940.0,133.9 1929.5,113.9" fill="#0000ff"/><polygon points="1966.7,130.7 1987.7,130.7 1977.2,110.8" fill="#0000ff"/><polygon points="2014.4,128.0 2035.4,128.0 2024.9,108.1" fill="#0000ff"/><polygon points="2062.1,126.1 2083.1,126.1 2072.6,106.1" fill="#0000ff"/><polygon points="2109.8,124.6 2130.8,124.6 2120.3,104.6" fill="#0000ff"/><polygon points="2157.5,123.0 2178.5,123.0 2168.0,103.1" fill="#0000ff"/><polygon points="2165.2,122.6 2186.2,122.6 2175.7,102.7" fill="#0000ff"/>
<path d="M293.7,1411.0 L297.7,1411.0 L301.7,1411.0 L305.7,1411.0 L309.7,1411.0 L313.7,1410.9 L317.7,1410.9 L321.7,1410.9 L325.7,1410.8 L329.7,1410.8 L333.7,1410.7 L337.7,1410.6 L341.7,1410.6 L345.7,1410.5 L349.7,1410.4 L353.7,1410.3 L357.7,1410.2 L361.7,1410.1 L365.7,1410.0 L369.7,1409.9 L373.7,1409.8 L377.7,1409.6 L381.7,1409.5 L385.7,1409.4 L389.7,1409.3 L393.7,1409.2 L397.7,1409.0 L401.7,1408.9 L405.7,1408.8 L409.7,1408.6 L413.7,1408.5 L417.7,1408.4 L421.7,1408.2 L425.7,1408.1 L429.7,1407.9 L433.7,1407.8 L437.7,1407.6 L441.7,1407.4 L445.7,1407.2 L449.7,1407.1 L453.7,1406.9 L457.7,1406.7 L461.7,1406.5 L465.7,1406.3 L469.7,1406.2 L473.7,1406.0 L477.7,1405.8 L481.7,1405.6 L485.7,1405.5 L489.7,1405.3 L493.7,1405.1 L497.7,1405.0 L501.7,1404.8 L505.7,1404.6 L509.7,1404.5 L513.7,1404.3 L517.7,1404.2 L521.7,1404.0 L525.7,1403.9 L529.7,1403.8 L533.7,1403.6 L537.7,1403.5 L541.7,1403.3 L545.7,1403.2 L549.7,1403.0 L553.7,1402.9 L557.7,1402.7 L561.7,1402.6 L565.7,1402.4 L569.7,1402.2 L573.7,1402.1 L577.7,1401.9 L581.7,1401.7 L585.7,1401.5 L589.7,1401.3 L593.7,1401.1 L597.7,1400.9 L601.7,1400.6 L605.7,1400.4 L609.7,1400.1 L613.7,1399.9 L617.7,1399.6 L621.7,1399.4 L625.7,1399.1 L629.7,1398.8 L633.7,1398.5 L637.7,1398.2 L641.7,1397.9 L645.7,1397.7 L649.7,1397.4 L653.7,1397.1 L657.7,1396.8 L661.7,1396.5 L665.7,1396.2 L669.7,1395.9 L673.7,1395.6 L677.7,1395.4 L681.7,1395.1 L685.7,1394.8 L689.7,1394.5 L693.7,1394.3 L697.7,1394.0 L701.7,1393.7 L705.7,1393.4 L709.7,1393.2 L713.7,1392.9 L717.7,1392.6 L721.7,1392.3 L725.7,1392.1 L729.7,1391.8 L733.7,1391.5 L737.7,1391.2 L741.7,1390.9 L745.7,1390.6 L749.7,1390.3 L753.7,1390.1 L757.7,1389.8 L761.7,1389.5 L765.7,1389.2 L769.7,1388.9 L773.7,1388.6 L777.7,1388.3 L781.7,1388.0 L785.7,1387.7 L789.7,1387.3 L793.7,1387.0 L797.7,1386.7 L801.7,1386.3 L805.7,1385.9 L809.7,1385.5 L813.7,1385.1 L817.7,1384.6 L821.7,1384.1 L825.7,1383.6 L829.7,1383.0 L833.7,1382.5 L837.7,1381.9 L841.7,1381.2 L845.7,1380.6 L849.7,1379.9 L853.7,1379.3 L857.7,1378.6 L861.7,1377.9 L865.7,1377.2 L869.7,1376.5 L873.7,1375.8 L877.7,1375.0 L881.7,1374.2 L885.7,1373.4 L889.7,1372.5 L893.7,1371.6 L897.7,1370.7 L901.7,1369.7 L905.7,1368.6 L909.7,1367.5 L913.7,1366.2 L917.7,1365.0 L921.7,1363.6 L925.7,1362.3 L929.7,1360.8 L933.7,1359.4 L937.7,1357.9 L941.7,1356.4 L945.7,1354.9 L949.7,1353.4 L953.7,1351.8 L957.7,1350.3 L961.7,1348.7 L965.7,1347.1 L969.7,1345.4 L973.7,1343.8 L977.7,1342.0 L981.7,1340.3 L985.7,1338.4 L989.7,1336.5 L993.7,1334.6 L997.7,1332.5 L1001.7,1330.4 L1005.7,1328.2 L1009.7,1325.9 L1013.7,1323.6 L1017.7,1321.2 L1021.7,1318.6 L1025.7,1316.0 L1029.7,1313.2 L1033.7,1310.3 L1037.7,1307.2 L1041.7,1303.9 L1045.7,1300.4 L1049.7,1296.6 L1053.7,1292.6 L1057.7,1288.4 L1061.7,1283.8 L1065.7,1279.1 L1069.7,1274.0 L1073.7,1268.7 L1077.7,1263.1 L1081.7,1257.2 L1085.7,1251.1 L1089.7,1244.7 L1093.7,1238.0 L1097.7,1231.1 L1101.7,1223.9 L1105.7,1216.5 L1109.7,1209.0 L1113.7,1201.3 L1117.7,1193.5 L1121.7,1185.5 L1125.7,1177.4 L1129.7,1169.1 L1133.7,1160.6 L1137.7,1152.0 L1141.7,1143.1 L1145.7,1134.0 L1149.7,1124.4 L1153.7,1114.5 L1157.7,1104.1 L1161.7,1093.3 L1165.7,1082.0 L1169.7,1070.1 L1173.7,1057.5 L1177.7,1044.4 L1181.7,1030.8 L1185.7,1016.7 L1189.7,1002.1 L1193.7,986.7 L1197.7,970.6 L1201.7,953.9 L1205.7,937.0 L1209.7,920.0 L1213.7,902.5 L1217.7,883.6 L1221.7,864.0 L1225.7,843.9 L1229.7,823.5 L1233.7,802.7 L1237.7,782.0 L1241.7,761.3 L1245.7,740.5 L1249.7,719.4 L1253.7,698.1 L1257.7,677.2 L1261.7,657.8 L1265.7,639.3 L1269.7,621.6 L1273.7,604.5 L1277.7,588.0 L1281.7,572.1 L1285.7,556.9 L1289.7,542.2 L1293.7,528.0 L1297.7,514.2 L1301.7,500.7 L1305.7,487.4 L1309.7,474.4 L1313.7,461.6 L1317.7,449.2 L1321.7,437.1 L1325.7,425.4 L1329.7,414.2 L1333.7,403.4 L1337.7,393.2 L1341.7,383.5 L1345.7,374.4 L1349.7,365.8 L1353.7,357.7 L1357.7,349.9 L1361.7,342.4 L1365.7,335.2 L1369.7,328.3 L1373.7,321.6 L1377.7,315.2 L1381.7,309.0 L1385.7,303.1 L1389.7,297.4 L1393.7,291.9 L1397.7,286.6 L1401.7,281.6 L1405.7,276.8 L1409.7,272.2 L1413.7,268.0 L1417.7,264.0 L1421.7,260.2 L1425.7,256.7 L1429.7,253.4 L1433.7,250.3 L1437.7,247.5 L1441.7,244.7 L1445.7,242.2 L1449.7,239.7 L1453.7,237.4 L1457.7,235.1 L1461.7,232.8 L1465.7,230.6 L1469.7,228.5 L1473.7,226.3 L1477.7,224.2 L1481.7,222.1 L1485.7,219.9 L1489.7,217.8 L1493.7,215.8 L1497.7,213.7 L1501.7,211.7 L1505.7,209.7 L1509.7,207.8 L1513.7,205.9 L1517.7,204.1 L1521.7,202.4 L1525.7,200.7 L1529.7,199.1 L1533.7,197.5 L1537.7,196.0 L1541.7,194.5 L1545.7,193.1 L1549.7,191.7 L1553.7,190.4 L1557.7,189.1 L1561.7,187.9 L1565.7,186.7 L1569.7,185.5 L1573.7,184.4 L1577.7,183.3 L1581.7,182.2 L1585.7,181.2 L1589.7,180.3 L1593.7,179.3 L1597.7,178.4 L1601.7,177.5 L1605.7,176.6 L1609.7,175.8 L1613.7,174.9 L1617.7,174.1 L1621.7,173.4 L1625.7,172.6 L1629.7,171.9 L1633.7,171.3 L1637.7,170.6 L1641.7,170.0 L1645.7,169.4 L1649.7,168.9 L1653.7,168.4 L1657.7,167.9 L1661.7,167.4 L1665.7,167.0 L1669.7,166.6 L1673.7,166.2 L1677.7,165.8 L1681.7,165.4 L1685.7,165.0 L1689.7,164.7 L1693.7,164.3 L1697.7,164.0 L1701.7,163.6 L1705.7,163.3 L1709.7,162.9 L1713.7,162.6 L1717.7,162.3 L1721.7,161.9 L1725.7,161.6 L1729.7,161.2 L1733.7,160.9 L1737.7,160.6 L1741.7,160.2 L1745.7,159.9 L1749.7,159.6 L1753.7,159.3 L1757.7,158.9 L1761.7,158.6 L1765.7,158.3 L1769.7,158.0 L1773.7,157.7 L1777.7,157.4 L1781.7,157.1 L1785.7,156.8 L1789.7,156.6 L1793.7,156.3 L1797.7,156.0 L1801.7,155.7 L1805.7,155.5 L1809.7,155.2 L1813.7,155.0 L1817.7,154.7 L1821.7,154.5 L1825.7,154.3 L1829.7,154.0 L1833.7,153.8 L1837.7,153.6 L1841.7,153.4 L1845.7,153.1 L1849.7,152.9 L1853.7,152.7 L1857.7,152.5 L1861.7,152.3 L1865.7,152.1 L1869.7,151.9 L1873.7,151.7 L1877.7,151.5 L1881.7,151.3 L1885.7,151.1 L1889.7,150.9 L1893.7,150.7 L1897.7,150.6 L1901.7,150.4 L1905.7,150.2 L1909.7,150.1 L1913.7,149.9 L1917.7,149.7 L1921.7,149.6 L1925.7,149.4 L1929.7,149.3 L1933.7,149.1 L1937.7,149.0 L1941.7,148.8 L1945.7,148.7 L1949.7,148.5 L1953.7,148.4 L1957.7,148.2 L1961.7,148.1 L1965.7,147.9 L1969.7,147.8 L1973.7,147.7 L1977.7,147.5 L1981.7,147.4 L1985.7,147.3 L1989.7,147.1 L1993.7,147.0 L1997.7,146.9 L2001.7,146.8 L2005.7,146.7 L2009.7,146.6 L2013.7,146.5 L2017.7,146.4 L2021.7,146.3 L2025.7,146.2 L2029.7,146.2 L2033.7,146.1 L2037.7,146.0 L2041.7,146.0 L2045.7,145.9 L2049.7,145.9 L2053.7,145.8 L2057.7,145.8 L2061.7,145.7 L2065.7,145.7 L2069.7,145.7 L2073.7,145.6 L2077.7,145.6 L2081.7,145.5 L2085.7,145.5 L2089.7,145.5 L2093.7,145.4 L2097.7,145.4 L2101.7,145.4 L2105.7,145.3 L2109.7,145.3 L2113.7,145.3 L2117.7,145.2 L2121.7,145.2 L2125.7,145.2 L2129.7,145.1 L2133.7,145.1 L2137.7,145.1 L2141.7,145.1 L2145.7,145.1 L2149.7,145.1 L2153.7,145.0 L2157.7,145.0 L2161.7,145.0 L2165.7,145.0 L2169.7,145.0 L2173.7,145.0 L2177.7,145.0 L2181.7,145.0" stroke="#ff00ff" stroke-width="14"/>
<polygon points="297.2,1402.6 318.2,1402.6 307.7,1422.5" fill="#ff00ff"/><polygon points="344.9,1401.8 365.9,1401.8 355.4,1421.8" fill="#ff00ff"/><polygon points="392.6,1400.5 413.6,1400.5 403.1,1420.4" fill="#ff00ff"/><polygon points="440.3,1398.6 461.3,1398.6 450.8,1418.6" fill="#ff00ff"/><polygon points="488.0,1396.5 509.0,1396.5 498.5,1416.5" fill="#ff00ff"/><polygon points="535.7,1394.8 556.7,1394.8 546.2,1414.7" fill="#ff00ff"/><polygon points="583.4,1392.7 604.4,1392.7 593.9,1412.6" fill="#ff00ff"/><polygon points="631.1,1389.6 652.1,1389.6 641.6,1409.5" fill="#ff00ff"/><polygon points="678.8,1386.2 699.8,1386.2 689.3,1406.1" fill="#ff00ff"/><polygon points="726.5,1382.9 747.5,1382.9 737.0,1402.8" fill="#ff00ff"/><polygon points="774.2,1379.3 795.2,1379.3 784.7,1399.3" fill="#ff00ff"/><polygon points="821.9,1374.2 842.9,1374.2 832.4,1394.2" fill="#ff00ff"/><polygon points="869.6,1366.1 890.6,1366.1 880.1,1386.1" fill="#ff00ff"/><polygon points="917.3,1353.1 938.3,1353.1 927.8,1373.1" fill="#ff00ff"/><polygon points="965.0,1334.6 986.0,1334.6 975.5,1354.5" fill="#ff00ff"/><polygon points="1012.7,1309.2 1033.7,1309.2 1023.2,1329.2" fill="#ff00ff"/><polygon points="1060.4,1264.0 1081.4,1264.0 1070.9,1284.0" fill="#ff00ff"/><polygon points="1108.1,1183.3 1129.1,1183.3 1118.6,1203.3" fill="#ff00ff"/><polygon points="1155.8,1071.8 1176.8,1071.8 1166.3,1091.7" fill="#ff00ff"/><polygon points="1203.5,892.7 1224.5,892.7 1214.0,912.6" fill="#ff00ff"/><polygon points="1251.2,649.4 1272.2,649.4 1261.7,669.3" fill="#ff00ff"/><polygon points="1298.9,467.0 1319.9,467.0 1309.4,486.9" fill="#ff00ff"/><polygon points="1346.6,342.6 1367.6,342.6 1357.1,362.6" fill="#ff00ff"/><polygon points="1394.3,269.4 1415.3,269.4 1404.8,289.4" fill="#ff00ff"/><polygon points="1442.0,229.7 1463.0,229.7 1452.5,249.6" fill="#ff00ff"/><polygon points="1489.7,204.1 1510.7,204.1 1500.2,224.0" fill="#ff00ff"/><polygon points="1537.4,184.0 1558.4,184.0 1547.9,203.9" fill="#ff00ff"/><polygon points="1585.1,170.5 1606.1,170.5 1595.6,190.4" fill="#ff00ff"/><polygon points="1632.8,161.4 1653.8,161.4 1643.3,181.3" fill="#ff00ff"/><polygon points="1680.5,156.2 1701.5,156.2 1691.0,176.1" fill="#ff00ff"/><polygon points="1728.2,152.1 1749.2,152.1 1738.7,172.0" fill="#ff00ff"/><polygon points="1775.9,148.4 1796.9,148.4 1786.4,168.3" fill="#ff00ff"/><polygon points="1823.6,145.4 1844.6,145.4 1834.1,165.3" fill="#ff00ff"/><polygon points="1871.3,142.9 1892.3,142.9 1881.8,162.8" fill="#ff00ff"/><polygon points="1919.0,140.9 1940.0,140.9 1929.5,160.8" fill="#ff00ff"/><polygon points="1966.7,139.1 1987.7,139.1 1977.2,159.1" fill="#ff00ff"/><polygon points="2014.4,137.9 2035.4,137.9 2024.9,157.8" fill="#ff00ff"/><polygon points="2062.1,137.2 2083.1,137.2 2072.6,157.2" fill="#ff00ff"/><polygon points="2109.8,136.8 2130.8,136.8 2120.3,156.8" fill="#ff00ff"/><polygon points="2157.5,136.6 2178.5,136.6 2168.0,156.6" fill="#ff00ff"/><polygon points="2165.2,136.6 2186.2,136.6 2175.7,156.6" fill="#ff00ff"/>
<path d="M293.7,1378.8 L297.7,1378.7 L301.7,1378.6 L305.7,1378.5 L309.7,1378.4 L313.7,1378.2 L317.7,1378.0 L321.7,1377.8 L325.7,1377.6 L329.7,1377.4 L333.7,1377.1 L337.7,1376.9 L341.7,1376.6 L345.7,1376.4 L349.7,1376.1 L353.7,1375.8 L357.7,1375.5 L361.7,1375.3 L365.7,1375.0 L369.7,1374.7 L373.7,1374.3 L377.7,1374.0 L381.7,1373.7 L385.7,1373.4 L389.7,1373.1 L393.7,1372.8 L397.7,1372.4 L401.7,1372.1 L405.7,1371.8 L409.7,1371.4 L413.7,1371.1 L417.7,1370.8 L421.7,1370.4 L425.7,1370.0 L429.7,1369.7 L433.7,1369.3 L437.7,1368.9 L441.7,1368.6 L445.7,1368.2 L449.7,1367.8 L453.7,1367.4 L457.7,1367.0 L461.7,1366.5 L465.7,1366.1 L469.7,1365.7 L473.7,1365.2 L477.7,1364.8 L481.7,1364.3 L485.7,1363.9 L489.7,1363.4 L493.7,1362.9 L497.7,1362.4 L501.7,1361.9 L505.7,1361.4 L509.7,1360.9 L513.7,1360.3 L517.7,1359.8 L521.7,1359.2 L525.7,1358.6 L529.7,1358.0 L533.7,1357.4 L537.7,1356.8 L541.7,1356.2 L545.7,1355.6 L549.7,1354.9 L553.7,1354.3 L557.7,1353.7 L561.7,1353.0 L565.7,1352.4 L569.7,1351.7 L573.7,1351.1 L577.7,1350.4 L581.7,1349.8 L585.7,1349.1 L589.7,1348.5 L593.7,1347.9 L597.7,1347.2 L601.7,1346.6 L605.7,1345.9 L609.7,1345.3 L613.7,1344.6 L617.7,1344.0 L621.7,1343.4 L625.7,1342.7 L629.7,1342.0 L633.7,1341.4 L637.7,1340.7 L641.7,1340.0 L645.7,1339.3 L649.7,1338.6 L653.7,1337.9 L657.7,1337.1 L661.7,1336.4 L665.7,1335.6 L669.7,1334.8 L673.7,1333.9 L677.7,1333.1 L681.7,1332.2 L685.7,1331.3 L689.7,1330.4 L693.7,1329.4 L697.7,1328.4 L701.7,1327.4 L705.7,1326.4 L709.7,1325.4 L713.7,1324.4 L717.7,1323.3 L721.7,1322.3 L725.7,1321.3 L729.7,1320.3 L733.7,1319.3 L737.7,1318.3 L741.7,1317.2 L745.7,1316.2 L749.7,1315.1 L753.7,1314.0 L757.7,1312.8 L761.7,1311.6 L765.7,1310.3 L769.7,1309.0 L773.7,1307.5 L777.7,1306.0 L781.7,1304.5 L785.7,1302.8 L789.7,1301.1 L793.7,1299.3 L797.7,1297.5 L801.7,1295.6 L805.7,1293.7 L809.7,1291.8 L813.7,1289.8 L817.7,1287.8 L821.7,1285.7 L825.7,1283.6 L829.7,1281.5 L833.7,1279.3 L837.7,1277.1 L841.7,1274.9 L845.7,1272.6 L849.7,1270.3 L853.7,1268.0 L857.7,1265.7 L861.7,1263.3 L865.7,1260.8 L869.7,1258.4 L873.7,1255.9 L877.7,1253.4 L881.7,1250.8 L885.7,1248.2 L889.7,1245.5 L893.7,1242.7 L897.7,1239.9 L901.7,1237.0 L905.7,1233.9 L909.7,1230.9 L913.7,1227.7 L917.7,1224.4 L921.7,1221.1 L925.7,1217.7 L929.7,1214.3 L933.7,1210.8 L937.7,1207.4 L941.7,1203.9 L945.7,1200.4 L949.7,1197.0 L953.7,1193.6 L957.7,1190.1 L961.7,1186.7 L965.7,1183.3 L969.7,1179.9 L973.7,1176.4 L977.7,1172.9 L981.7,1169.3 L985.7,1165.7 L989.7,1161.9 L993.7,1158.1 L997.7,1154.2 L1001.7,1150.2 L1005.7,1146.1 L1009.7,1141.9 L1013.7,1137.6 L1017.7,1133.2 L1021.7,1128.8 L1025.7,1124.2 L1029.7,1119.6 L1033.7,1114.9 L1037.7,1110.1 L1041.7,1105.3 L1045.7,1100.3 L1049.7,1095.3 L1053.7,1090.2 L1057.7,1085.1 L1061.7,1079.9 L1065.7,1074.7 L1069.7,1069.5 L1073.7,1064.3 L1077.7,1059.0 L1081.7,1053.7 L1085.7,1048.4 L1089.7,1043.0 L1093.7,1037.5 L1097.7,1031.9 L1101.7,1026.2 L1105.7,1020.3 L1109.7,1014.2 L1113.7,1008.0 L1117.7,1001.7 L1121.7,995.2 L1125.7,988.7 L1129.7,982.0 L1133.7,975.4 L1137.7,968.7 L1141.7,962.0 L1145.7,955.3 L1149.7,948.6 L1153.7,941.9 L1157.7,935.2 L1161.7,928.4 L1165.7,921.4 L1169.7,914.4 L1173.7,907.2 L1177.7,899.8 L1181.7,892.3 L1185.7,884.6 L1189.7,876.8 L1193.7,868.8 L1197.7,860.8 L1201.7,852.7 L1205.7,844.6 L1209.7,836.4 L1213.7,828.1 L1217.7,819.9 L1221.7,811.5 L1225.7,803.1 L1229.7,794.7 L1233.7,786.2 L1237.7,777.6 L1241.7,769.0 L1245.7,760.4 L1249.7,751.7 L1253.7,743.1 L1257.7,734.5 L1261.7,726.0 L1265.7,717.6 L1269.7,709.3 L1273.7,701.2 L1277.7,693.2 L1281.7,685.5 L1285.7,677.8 L1289.7,670.4 L1293.7,663.2 L1297.7,656.1 L1301.7,649.2 L1305.7,642.5 L1309.7,635.9 L1313.7,629.5 L1317.7,623.1 L1321.7,616.9 L1325.7,610.7 L1329.7,604.6 L1333.7,598.5 L1337.7,592.4 L1341.7,586.3 L1345.7,580.2 L1349.7,574.1 L1353.7,568.0 L1357.7,561.9 L1361.7,555.7 L1365.7,549.6 L1369.7,543.5 L1373.7,537.5 L1377.7,531.4 L1381.7,525.4 L1385.7,519.5 L1389.7,513.7 L1393.7,508.0 L1397.7,502.4 L1401.7,496.9 L1405.7,491.5 L1409.7,486.2 L1413.7,481.1 L1417.7,476.1 L1421.7,471.1 L1425.7,466.3 L1429.7,461.5 L1433.7,456.8 L1437.7,452.0 L1441.7,447.3 L1445.7,442.6 L1449.7,437.9 L1453.7,433.3 L1457.7,428.6 L1461.7,424.0 L1465.7,419.4 L1469.7,414.9 L1473.7,410.5 L1477.7,406.2 L1481.7,401.9 L1485.7,397.8 L1489.7,393.7 L1493.7,389.7 L1497.7,385.8 L1501.7,382.0 L1505.7,378.3 L1509.7,374.6 L1513.7,370.9 L1517.7,367.3 L1521.7,363.7 L1525.7,360.1 L1529.7,356.5 L1533.7,352.9 L1537.7,349.3 L1541.7,345.7 L1545.7,342.1 L1549.7,338.5 L1553.7,335.0 L1557.7,331.5 L1561.7,328.0 L1565.7,324.6 L1569.7,321.2 L1573.7,318.0 L1577.7,314.8 L1581.7,311.7 L1585.7,308.7 L1589.7,305.8 L1593.7,303.0 L1597.7,300.3 L1601.7,297.7 L1605.7,295.1 L1609.7,292.6 L1613.7,290.2 L1617.7,287.9 L1621.7,285.6 L1625.7,283.4 L1629.7,281.4 L1633.7,279.3 L1637.7,277.4 L1641.7,275.5 L1645.7,273.7 L1649.7,271.9 L1653.7,270.2 L1657.7,268.4 L1661.7,266.7 L1665.7,265.0 L1669.7,263.3 L1673.7,261.6 L1677.7,259.9 L1681.7,258.2 L1685.7,256.6 L1689.7,254.9 L1693.7,253.3 L1697.7,251.6 L1701.7,250.0 L1705.7,248.4 L1709.7,246.9 L1713.7,245.3 L1717.7,243.8 L1721.7,242.3 L1725.7,240.9 L1729.7,239.4 L1733.7,237.9 L1737.7,236.5 L1741.7,235.1 L1745.7,233.6 L1749.7,232.2 L1753.7,230.9 L1757.7,229.5 L1761.7,228.2 L1765.7,226.9 L1769.7,225.6 L1773.7,224.3 L1777.7,223.1 L1781.7,221.9 L1785.7,220.8 L1789.7,219.7 L1793.7,218.7 L1797.7,217.7 L1801.7,216.7 L1805.7,215.8 L1809.7,214.9 L1813.7,214.1 L1817.7,213.2 L1821.7,212.5 L1825.7,211.7 L1829.7,211.0 L1833.7,210.3 L1837.7,209.7 L1841.7,209.0 L1845.7,208.4 L1849.7,207.8 L1853.7,207.2 L1857.7,206.6 L1861.7,206.0 L1865.7,205.4 L1869.7,204.9 L1873.7,204.4 L1877.7,203.8 L1881.7,203.3 L1885.7,202.8 L1889.7,202.3 L1893.7,201.8 L1897.7,201.3 L1901.7,200.9 L1905.7,200.4 L1909.7,199.9 L1913.7,199.4 L1917.7,199.0 L1921.7,198.5 L1925.7,198.0 L1929.7,197.6 L1933.7,197.1 L1937.7,196.7 L1941.7,196.2 L1945.7,195.8 L1949.7,195.3 L1953.7,194.9 L1957.7,194.5 L1961.7,194.0 L1965.7,193.6 L1969.7,193.2 L1973.7,192.8 L1977.7,192.3 L1981.7,191.9 L1985.7,191.5 L1989.7,191.1 L1993.7,190.8 L1997.7,190.4 L2001.7,190.0 L2005.7,189.6 L2009.7,189.3 L2013.7,188.9 L2017.7,188.6 L2021.7,188.3 L2025.7,187.9 L2029.7,187.6 L2033.7,187.3 L2037.7,187.0 L2041.7,186.7 L2045.7,186.4 L2049.7,186.1 L2053.7,185.8 L2057.7,185.6 L2061.7,185.3 L2065.7,185.1 L2069.7,184.8 L2073.7,184.6 L2077.7,184.3 L2081.7,184.1 L2085.7,183.9 L2089.7,183.6 L2093.7,183.4 L2097.7,183.2 L2101.7,183.0 L2105.7,182.7 L2109.7,182.5 L2113.7,182.3 L2117.7,182.1 L2121.7,181.9 L2125.7,181.7 L2129.7,181.4 L2133.7,181.2 L2137.7,181.0 L2141.7,180.8 L2145.7,180.6 L2149.7,180.4 L2153.7,180.1 L2157.7,179.9 L2161.7,179.7 L2165.7,179.5 L2169.7,179.3 L2173.7,179.1 L2177.7,179.0 L2181.7,178.8" stroke="#008000" stroke-width="14"/>
<polygon points="297.2,1378.4 307.7,1366.4 318.2,1378.4 307.7,1390.5" fill="#008000"/><polygon points="344.9,1375.7 355.4,1363.6 365.9,1375.7 355.4,1387.8" fill="#008000"/><polygon points="392.6,1372.0 403.1,1359.9 413.6,1372.0 403.1,1384.1" fill="#008000"/><polygon points="440.3,1367.7 450.8,1355.6 461.3,1367.7 450.8,1379.7" fill="#008000"/><polygon points="488.0,1362.3 498.5,1350.3 509.0,1362.3 498.5,1374.4" fill="#008000"/><polygon points="535.7,1355.5 546.2,1343.4 556.7,1355.5 546.2,1367.6" fill="#008000"/><polygon points="583.4,1347.8 593.9,1335.8 604.4,1347.8 593.9,1359.9" fill="#008000"/><polygon points="631.1,1340.0 641.6,1327.9 652.1,1340.0 641.6,1352.1" fill="#008000"/><polygon points="678.8,1330.5 689.3,1318.4 699.8,1330.5 689.3,1342.5" fill="#008000"/><polygon points="726.5,1318.4 737.0,1306.4 747.5,1318.4 737.0,1330.5" fill="#008000"/><polygon points="774.2,1303.2 784.7,1291.2 795.2,1303.2 784.7,1315.3" fill="#008000"/><polygon points="821.9,1280.0 832.4,1268.0 842.9,1280.0 832.4,1292.1" fill="#008000"/><polygon points="869.6,1251.8 880.1,1239.7 890.6,1251.8 880.1,1263.9" fill="#008000"/><polygon points="917.3,1215.9 927.8,1203.9 938.3,1215.9 927.8,1228.0" fill="#008000"/><polygon points="965.0,1174.8 975.5,1162.7 986.0,1174.8 975.5,1186.9" fill="#008000"/><polygon points="1012.7,1127.1 1023.2,1115.0 1033.7,1127.1 1023.2,1139.2" fill="#008000"/><polygon points="1060.4,1068.0 1070.9,1055.9 1081.4,1068.0 1070.9,1080.0" fill="#008000"/><polygon points="1108.1,1000.2 1118.6,988.2 1129.1,1000.2 1118.6,1012.3" fill="#008000"/><polygon points="1155.8,920.4 1166.3,908.3 1176.8,920.4 1166.3,932.4" fill="#008000"/><polygon points="1203.5,827.5 1214.0,815.4 1224.5,827.5 1214.0,839.6" fill="#008000"/><polygon points="1251.2,726.0 1261.7,713.9 1272.2,726.0 1261.7,738.1" fill="#008000"/><polygon points="1298.9,636.4 1309.4,624.3 1319.9,636.4 1309.4,648.5" fill="#008000"/><polygon points="1346.6,562.8 1357.1,550.7 1367.6,562.8 1357.1,574.9" fill="#008000"/><polygon points="1394.3,492.7 1404.8,480.6 1415.3,492.7 1404.8,504.8" fill="#008000"/><polygon points="1442.0,434.7 1452.5,422.6 1463.0,434.7 1452.5,446.7" fill="#008000"/><polygon points="1489.7,383.5 1500.2,371.4 1510.7,383.5 1500.2,395.5" fill="#008000"/><polygon points="1537.4,340.1 1547.9,328.1 1558.4,340.1 1547.9,352.2" fill="#008000"/><polygon points="1585.1,301.7 1595.6,289.7 1606.1,301.7 1595.6,313.8" fill="#008000"/><polygon points="1632.8,274.8 1643.3,262.7 1653.8,274.8 1643.3,286.9" fill="#008000"/><polygon points="1680.5,254.4 1691.0,242.3 1701.5,254.4 1691.0,266.4" fill="#008000"/><polygon points="1728.2,236.1 1738.7,224.1 1749.2,236.1 1738.7,248.2" fill="#008000"/><polygon points="1775.9,220.6 1786.4,208.5 1796.9,220.6 1786.4,232.7" fill="#008000"/><polygon points="1823.6,210.3 1834.1,198.2 1844.6,210.3 1834.1,222.3" fill="#008000"/><polygon points="1871.3,203.3 1881.8,191.2 1892.3,203.3 1881.8,215.4" fill="#008000"/><polygon points="1919.0,197.6 1929.5,185.5 1940.0,197.6 1929.5,209.7" fill="#008000"/><polygon points="1966.7,192.4 1977.2,180.3 1987.7,192.4 1977.2,204.5" fill="#008000"/><polygon points="2014.4,188.0 2024.9,175.9 2035.4,188.0 2024.9,200.1" fill="#008000"/><polygon points="2062.1,184.6 2072.6,172.6 2083.1,184.6 2072.6,196.7" fill="#008000"/><polygon points="2109.8,181.9 2120.3,169.9 2130.8,181.9 2120.3,194.0" fill="#008000"/><polygon points="2157.5,179.4 2168.0,167.3 2178.5,179.4 2168.0,191.4" fill="#008000"/><polygon points="2165.2,178.8 2175.7,166.8 2186.2,178.8 2175.7,190.9" fill="#008000"/>
</g>
<g stroke="#000" stroke-width="5" fill="none">
<line x1="286.0" y1="778.6" x2="2200" y2="778.6" stroke-dasharray="19 14.77 4.7 14.77 4.7 14.77" stroke-dashoffset="66.4"/>
<line x1="1235.3" y1="75.5" x2="1235.3" y2="1488.0" stroke-dasharray="19 14.77 4.7 14.77 4.7 14.77"/>
</g>
<rect x="286.0" y="69.7" width="1909.0" height="1418.3" fill="none" stroke="#000" stroke-width="5"/>
<g stroke="#000" stroke-width="5"><line x1="286.0" y1="1399.2" x2="298.0" y2="1399.2"/><line x1="286.0" y1="1310.6" x2="312.0" y2="1310.6"/><line x1="286.0" y1="1221.9" x2="298.0" y2="1221.9"/><line x1="286.0" y1="1133.3" x2="312.0" y2="1133.3"/><line x1="286.0" y1="1044.6" x2="298.0" y2="1044.6"/><line x1="286.0" y1="956.0" x2="312.0" y2="956.0"/><line x1="286.0" y1="867.3" x2="298.0" y2="867.3"/><line x1="286.0" y1="778.7" x2="312.0" y2="778.7"/><line x1="286.0" y1="690.1" x2="298.0" y2="690.1"/><line x1="286.0" y1="601.4" x2="312.0" y2="601.4"/><line x1="286.0" y1="512.8" x2="298.0" y2="512.8"/><line x1="286.0" y1="424.1" x2="312.0" y2="424.1"/><line x1="286.0" y1="335.5" x2="298.0" y2="335.5"/><line x1="286.0" y1="246.8" x2="312.0" y2="246.8"/><line x1="286.0" y1="158.2" x2="298.0" y2="158.2"/><line x1="404.6" y1="1488.0" x2="404.6" y2="1476.0"/><line x1="523.9" y1="1488.0" x2="523.9" y2="1462.0"/><line x1="643.2" y1="1488.0" x2="643.2" y2="1476.0"/><line x1="762.6" y1="1488.0" x2="762.6" y2="1462.0"/><line x1="882.0" y1="1488.0" x2="882.0" y2="1476.0"/><line x1="1001.3" y1="1488.0" x2="1001.3" y2="1462.0"/><line x1="1120.7" y1="1488.0" x2="1120.7" y2="1476.0"/><line x1="1240.0" y1="1488.0" x2="1240.0" y2="1462.0"/><line x1="1359.3" y1="1488.0" x2="1359.3" y2="1476.0"/><line x1="1478.7" y1="1488.0" x2="1478.7" y2="1462.0"/><line x1="1598.0" y1="1488.0" x2="1598.0" y2="1476.0"/><line x1="1717.4" y1="1488.0" x2="1717.4" y2="1462.0"/><line x1="1836.8" y1="1488.0" x2="1836.8" y2="1476.0"/><line x1="1956.1" y1="1488.0" x2="1956.1" y2="1462.0"/><line x1="2075.4" y1="1488.0" x2="2075.4" y2="1476.0"/></g>
<g class="tk" font-size="46.5" letter-spacing="5.3">
<text x="251.60000000000002" y="1501.0" text-anchor="end">-200</text>
<text x="251.60000000000002" y="1325.0" text-anchor="end">-150</text>
<text x="251.60000000000002" y="1147.5" text-anchor="end">-100</text>
<text x="251.60000000000002" y="970.5" text-anchor="end">-50</text>
<text x="251.60000000000002" y="789.6" text-anchor="end">0</text>
<text x="251.60000000000002" y="614.6" text-anchor="end">50</text>
<text x="251.60000000000002" y="438.0" text-anchor="end">100</text>
<text x="251.60000000000002" y="262.5" text-anchor="end">150</text>
<text x="251.60000000000002" y="81.4" text-anchor="end">200</text>
<text x="281.9" y="1556" text-anchor="middle">-8000</text>
<text x="520.5" y="1556" text-anchor="middle">-6000</text>
<text x="759.2" y="1556" text-anchor="middle">-4000</text>
<text x="997.9" y="1556" text-anchor="middle">-2000</text>
<text x="1233.7" y="1556" text-anchor="middle">0</text>
<text x="1475.4" y="1556" text-anchor="middle">2000</text>
<text x="1714.1" y="1556" text-anchor="middle">4000</text>
<text x="1952.8" y="1556" text-anchor="middle">6000</text>
<text x="2191.5" y="1556" text-anchor="middle">8000</text>
</g>
<text class="tk tt" font-size="64.5" x="988" y="1666" textLength="491" lengthAdjust="spacing">Applied Field/Oe</text>
<text class="tk tt" font-size="72" transform="translate(93.7,1315) rotate(-90)" textLength="987" lengthAdjust="spacingAndGlyphs">Saturation Magnetization/(emu/g)</text>
<line x1="350" y1="166.7" x2="498" y2="166.7" stroke="#222222" stroke-width="14" stroke-opacity="0.25"/>
<line x1="352" y1="166.7" x2="496" y2="166.7" stroke="#222222" stroke-width="10"/>
<rect x="417.2" y="159.9" width="13.6" height="13.6" fill="#222222"/>
<text class="lg" font-size="63.4" x="532" y="181">Fe-Si-B/ SiO<tspan font-size="41" dy="12">2</tspan><tspan dy="-12">,540<tspan font-weight="900" stroke="#000" stroke-width="1.6">℃</tspan>,2min</tspan></text>
<line x1="350" y1="241" x2="498" y2="241" stroke="#ff0000" stroke-width="13.5" stroke-opacity="0.45"/>
<line x1="352" y1="241" x2="496" y2="241" stroke="#ff0000" stroke-width="5.5"/>
<circle cx="424.0" cy="241.0" r="8.1" fill="#ff0000"/>
<text class="lg" font-size="63.4" x="532" y="257.3">Fe-Si-B/ SiO<tspan font-size="41" dy="12">2</tspan><tspan dy="-12">,500<tspan font-weight="900" stroke="#000" stroke-width="1.6">℃</tspan>,2min</tspan></text>
<line x1="350" y1="316.9" x2="498" y2="316.9" stroke="#0000ff" stroke-width="13.5" stroke-opacity="0.42"/>
<line x1="352" y1="316.9" x2="496" y2="316.9" stroke="#0000ff" stroke-width="5.5"/>
<polygon points="415.5,323.7 432.5,323.7 424.0,307.5" fill="#0000ff"/>
<text class="lg" font-size="63.4" x="532" y="333">Fe-Si-B/ SiO<tspan font-size="41" dy="12">2</tspan><tspan dy="-12">,460<tspan font-weight="900" stroke="#000" stroke-width="1.6">℃</tspan>,2min</tspan></text>
<line x1="350" y1="395" x2="498" y2="395" stroke="#ff10ff" stroke-width="13.5" stroke-opacity="0.3"/>
<line x1="352" y1="395" x2="496" y2="395" stroke="#ff10ff" stroke-width="9"/>
<polygon points="415.5,388.2 432.5,388.2 424.0,404.4" fill="#ff10ff"/>
<text class="lg" font-size="63.4" x="532" y="404.6">Fe-Si-B ribbon</text>
<line x1="350" y1="469" x2="498" y2="469" stroke="#008000" stroke-width="13.5" stroke-opacity="0.45"/>
<line x1="352" y1="469" x2="496" y2="469" stroke="#008000" stroke-width="5.5"/>
<polygon points="415.5,469.0 424.0,459.2 432.5,469.0 424.0,478.8" fill="#008000"/>
<text class="lg" font-size="63.4" x="532" y="480.6">Fe-Si-B powder</text>
<rect x="1335.7" y="821.5" width="815.8" height="547.0999999999999" fill="#fff"/>
<clipPath id="ic"><rect x="1335.7" y="821.5" width="815.8" height="547.0999999999999"/></clipPath>
<g clip-path="url(#ic)" fill="none" stroke-width="3.7">
<path d="M1318.0,1356.4 L1338.0,1340.6 L1650.9,1093.8 L1755.2,1012.5 L1990.6,824.5 L2010.6,808.5" stroke="#000000"/>
<path d="M1435.3,1379.1 L1455.3,1363.4 L1745.8,1135.6 L1802.7,1096.0 L2144.4,824.5 L2164.4,808.6" stroke="#000000"/>
<path d="M1318.0,1305.4 L1338.0,1293.2 L1652.8,1101.4 L1740.0,1050.4 L2109.3,824.5 L2129.3,812.3" stroke="#ff0000"/>
<path d="M1439.0,1377.5 L1459.0,1365.3 L1745.8,1190.6 L1897.6,1096.0 L2148.2,949.8 L2168.2,938.1" stroke="#ff0000"/>
<path d="M1318.0,1335.3 L1338.0,1321.6 L1660.4,1101.4 L1740.0,1045.7 L2060.9,824.5 L2080.9,810.7" stroke="#0000ff"/>
<path d="M1517.9,1379.4 L1537.9,1365.3 L1745.8,1219.0 L1931.8,1096.0 L2148.2,945.0 L2168.2,931.0" stroke="#0000ff"/>
<path d="M1409.7,1387.2 L1429.7,1365.3 L1677.4,1093.8 L1740.0,1023.9 L1922.3,824.5 L1942.3,802.6" stroke="#ff0a96"/>
<path d="M1653.6,1386.9 L1673.6,1365.3 L1745.8,1287.5 L1928.0,1096.0 L2148.2,853.9 L2168.2,831.9" stroke="#ff0a96"/>
<path d="M1318.0,1249.9 L1338.0,1241.0 L1664.2,1095.7 L1740.0,1059.0 L2149.2,877.7 L2169.2,868.8" stroke="#008000"/>
<path d="M1318.0,1354.7 L1338.0,1345.4 L1745.8,1156.5 L1876.7,1096.0 L2149.2,972.6 L2169.2,963.5" stroke="#008000"/>
</g>
<g stroke="#000" stroke-width="4.7" fill="none">
<line x1="1335.7" y1="1097.5" x2="2140" y2="1097.5" stroke-dasharray="14 9.9 4.7 9.9 4.7 9.9" stroke-dashoffset="3.8"/>
<line x1="1745.7" y1="838" x2="1745.7" y2="1368.6" stroke-dasharray="14 9.9 4.7 9.9 4.7 9.9"/>
</g>
<rect x="1790" y="974" width="8" height="8" fill="#000000"/>
<rect x="1791" y="1010" width="8" height="8" fill="#ff0000"/>
<rect x="1785" y="1029" width="8" height="8" fill="#008000"/>
<rect x="1764" y="1114" width="8" height="8" fill="#000000"/>
<rect x="1764" y="1142" width="8" height="8" fill="#008000"/>
<rect x="1762" y="1174" width="8" height="8" fill="#ff0000"/>
<rect x="1764" y="1200" width="8" height="8" fill="#0000ff"/>
<rect x="1335.7" y="821.5" width="815.8" height="547.0999999999999" fill="none" stroke="#000" stroke-width="5"/>
<g stroke="#000" stroke-width="5"><line x1="1335.7" y1="1315.6" x2="1323.7" y2="1315.6"/><line x1="1335.7" y1="1262.5" x2="1328.7" y2="1262.5"/><line x1="1335.7" y1="1208.0" x2="1323.7" y2="1208.0"/><line x1="1335.7" y1="1151.5" x2="1328.7" y2="1151.5"/><line x1="1335.7" y1="1097.4" x2="1323.7" y2="1097.4"/><line x1="1335.7" y1="1040.8" x2="1328.7" y2="1040.8"/><line x1="1335.7" y1="983.3" x2="1323.7" y2="983.3"/><line x1="1335.7" y1="929.5" x2="1328.7" y2="929.5"/><line x1="1335.7" y1="874.0" x2="1323.7" y2="874.0"/><line x1="1416.4" y1="1368.6" x2="1416.4" y2="1361.6"/><line x1="1497.5" y1="1368.6" x2="1497.5" y2="1361.6"/><line x1="1581.5" y1="1368.6" x2="1581.5" y2="1361.6"/><line x1="1664.5" y1="1368.6" x2="1664.5" y2="1361.6"/><line x1="1745.7" y1="1368.6" x2="1745.7" y2="1361.6"/><line x1="1826.8" y1="1368.6" x2="1826.8" y2="1361.6"/><line x1="1908.3" y1="1368.6" x2="1908.3" y2="1361.6"/><line x1="1989.4" y1="1368.6" x2="1989.4" y2="1361.6"/><line x1="2070.2" y1="1368.6" x2="2070.2" y2="1361.6"/></g>
<g class="tk" font-size="38.5">
<text x="1310" y="1327.1" text-anchor="end">-4</text>
<text x="1310" y="1219.5" text-anchor="end">-2</text>
<text x="1310" y="1104.9" text-anchor="end">0</text>
<text x="1310" y="994.8" text-anchor="end">2</text>
<text x="1310" y="885.5" text-anchor="end">4</text>
<text x="1333.0" y="1413.5" text-anchor="middle">-50</text>
<text x="1413.5" y="1413.5" text-anchor="middle">-40</text>
<text x="1494.0" y="1413.5" text-anchor="middle">-30</text>
<text x="1577.0" y="1413.5" text-anchor="middle">-20</text>
<text x="1657.5" y="1413.5" text-anchor="middle">-10</text>
<text x="1739.0" y="1413.5" text-anchor="middle">0</text>
<text x="1822.7" y="1413.5" text-anchor="middle">10</text>
<text x="1903.8" y="1413.5" text-anchor="middle">20</text>
<text x="1984.4" y="1413.5" text-anchor="middle">30</text>
<text x="2064.9" y="1413.5" text-anchor="middle">40</text>
<text x="2146.0" y="1413.5" text-anchor="middle">50</text>
</g>
</svg></body></html>
